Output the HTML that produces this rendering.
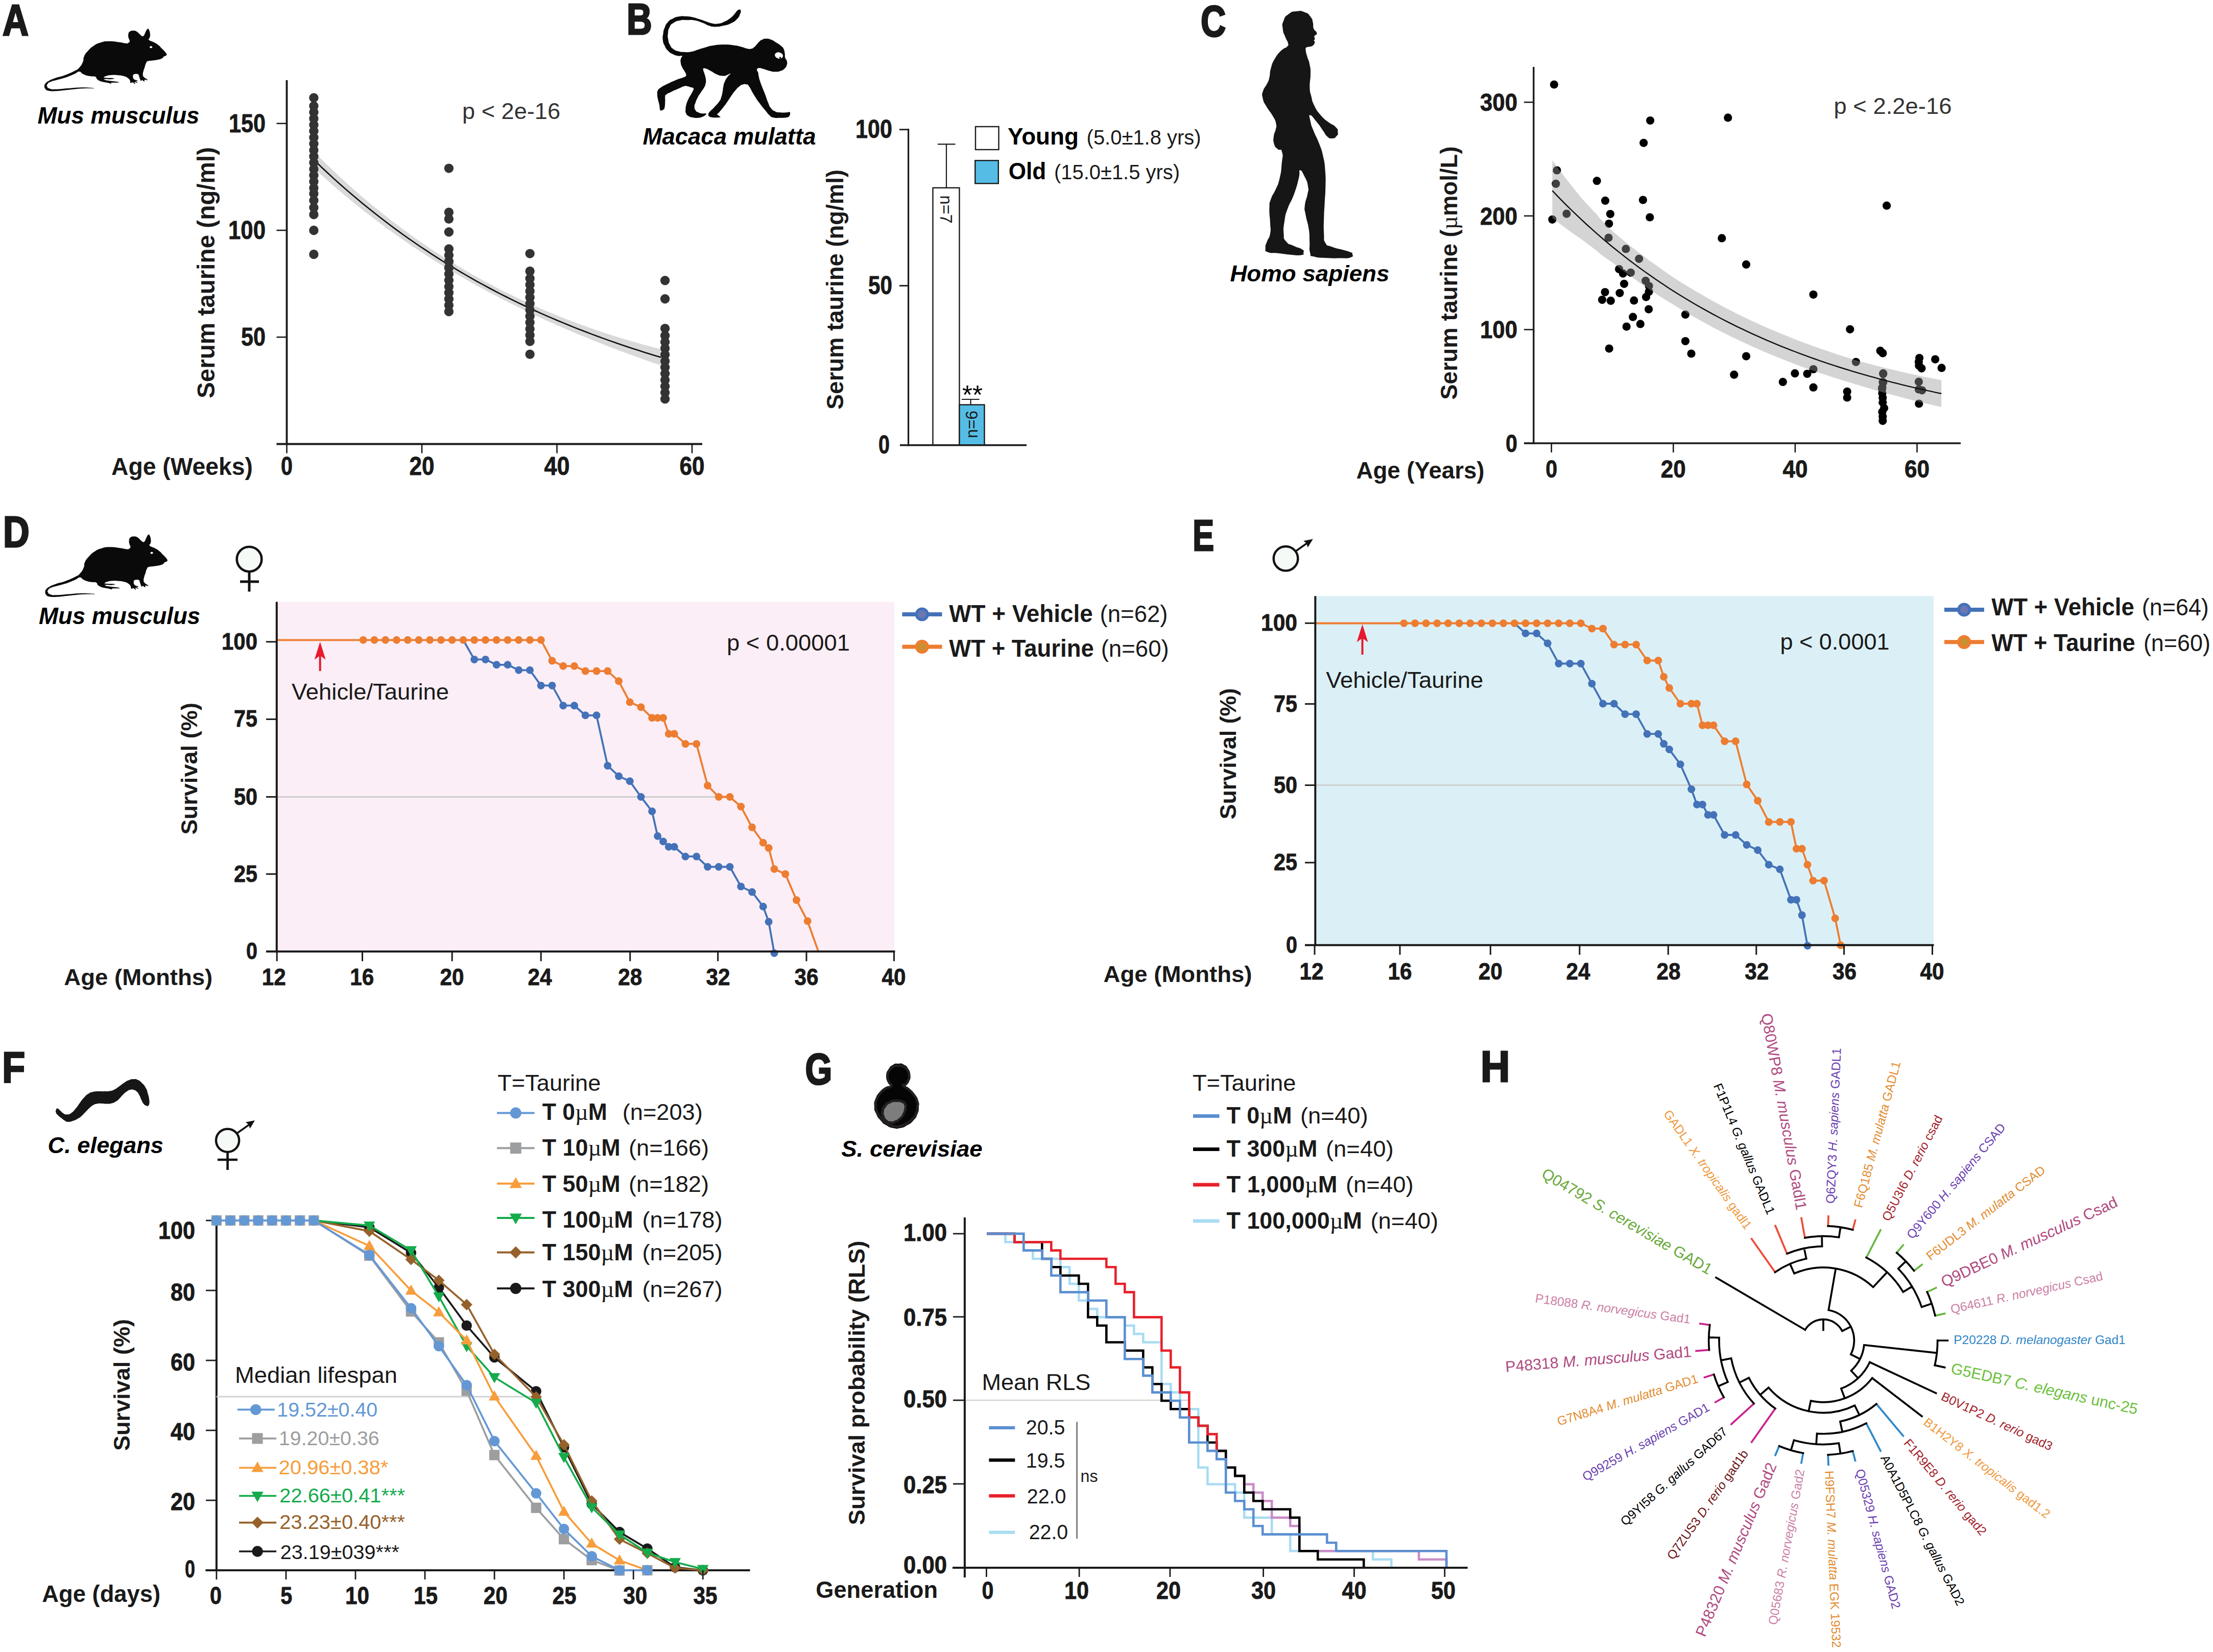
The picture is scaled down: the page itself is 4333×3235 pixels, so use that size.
<!DOCTYPE html>
<html><head><meta charset="utf-8"><title>Figure</title>
<style>html,body{margin:0;padding:0;background:#fff;}body{width:4333px;height:3235px;overflow:hidden;font-family:"Liberation Sans",sans-serif;}svg{display:block;}</style>
</head><body>
<svg width="4333" height="3235" viewBox="0 0 4333 3235" font-family="Liberation Sans, sans-serif">
<g id="pa">
<path d="M619.7,301.9 L630.9,313.2 L642.2,324.2 L653.4,334.9 L664.7,345.5 L675.9,355.9 L687.1,366.0 L698.4,375.9 L709.6,385.7 L720.9,395.2 L732.1,404.5 L743.3,413.7 L754.6,422.6 L765.8,431.4 L777.1,440.0 L788.3,448.4 L799.5,456.6 L810.8,464.7 L822.0,472.6 L833.3,480.3 L844.5,487.9 L855.8,495.3 L867.0,502.5 L878.2,509.6 L889.5,516.6 L900.7,523.3 L912.0,530.0 L923.2,536.5 L934.4,542.8 L945.7,549.1 L956.9,555.1 L968.2,561.1 L979.4,566.9 L990.7,572.6 L1001.9,578.1 L1013.1,583.5 L1024.4,588.8 L1035.6,594.0 L1046.9,599.1 L1058.1,604.0 L1069.3,608.9 L1080.6,613.6 L1091.8,618.2 L1103.1,622.7 L1114.3,627.0 L1125.5,631.3 L1136.8,635.5 L1148.0,639.6 L1159.3,643.5 L1170.5,647.4 L1181.8,651.2 L1193.0,654.8 L1204.2,658.4 L1215.5,661.9 L1226.7,665.3 L1238.0,668.6 L1249.2,671.8 L1260.4,674.9 L1271.7,677.9 L1282.9,680.9 L1294.2,683.8 L1294.2,715.7 L1282.9,711.8 L1271.7,707.9 L1260.4,703.9 L1249.2,699.9 L1238.0,695.8 L1226.7,691.7 L1215.5,687.5 L1204.2,683.3 L1193.0,679.0 L1181.8,674.6 L1170.5,670.2 L1159.3,665.7 L1148.0,661.1 L1136.8,656.5 L1125.5,651.8 L1114.3,647.1 L1103.1,642.2 L1091.8,637.3 L1080.6,632.3 L1069.3,627.3 L1058.1,622.1 L1046.9,616.9 L1035.6,611.6 L1024.4,606.2 L1013.1,600.7 L1001.9,595.1 L990.7,589.5 L979.4,583.7 L968.2,577.8 L956.9,571.9 L945.7,565.8 L934.4,559.7 L923.2,553.4 L912.0,547.0 L900.7,540.5 L889.5,533.9 L878.2,527.2 L867.0,520.4 L855.8,513.4 L844.5,506.4 L833.3,499.2 L822.0,491.8 L810.8,484.4 L799.5,476.8 L788.3,469.0 L777.1,461.1 L765.8,453.1 L754.6,444.9 L743.3,436.6 L732.1,428.1 L720.9,419.5 L709.6,410.7 L698.4,401.7 L687.1,392.6 L675.9,383.3 L664.7,373.8 L653.4,364.2 L642.2,354.3 L630.9,344.3 L619.7,334.1Z" stroke="none" stroke-width="0" fill="#d9d9d9" />
<path d="M619.7,318.0 L630.9,328.7 L642.2,339.3 L653.4,349.6 L664.7,359.7 L675.9,369.6 L687.1,379.3 L698.4,388.8 L709.6,398.2 L720.9,407.3 L732.1,416.3 L743.3,425.1 L754.6,433.8 L765.8,442.3 L777.1,450.6 L788.3,458.7 L799.5,466.7 L810.8,474.5 L822.0,482.2 L833.3,489.7 L844.5,497.1 L855.8,504.4 L867.0,511.5 L878.2,518.4 L889.5,525.2 L900.7,531.9 L912.0,538.5 L923.2,544.9 L934.4,551.3 L945.7,557.4 L956.9,563.5 L968.2,569.5 L979.4,575.3 L990.7,581.0 L1001.9,586.6 L1013.1,592.1 L1024.4,597.5 L1035.6,602.8 L1046.9,608.0 L1058.1,613.1 L1069.3,618.1 L1080.6,622.9 L1091.8,627.7 L1103.1,632.4 L1114.3,637.0 L1125.5,641.6 L1136.8,646.0 L1148.0,650.3 L1159.3,654.6 L1170.5,658.8 L1181.8,662.9 L1193.0,666.9 L1204.2,670.8 L1215.5,674.7 L1226.7,678.5 L1238.0,682.2 L1249.2,685.8 L1260.4,689.4 L1271.7,692.9 L1282.9,696.4 L1294.2,699.7" stroke="#111" stroke-width="2.6" fill="none" />
<circle cx="614.4" cy="191.5" r="9.2" fill="#333" />
<circle cx="614.4" cy="207.4" r="9.2" fill="#333" />
<circle cx="614.4" cy="219.8" r="9.2" fill="#333" />
<circle cx="614.4" cy="232.1" r="9.2" fill="#333" />
<circle cx="614.4" cy="244.5" r="9.2" fill="#333" />
<circle cx="614.4" cy="256.8" r="9.2" fill="#333" />
<circle cx="614.4" cy="269.2" r="9.2" fill="#333" />
<circle cx="614.4" cy="281.5" r="9.2" fill="#333" />
<circle cx="614.4" cy="293.9" r="9.2" fill="#333" />
<circle cx="614.4" cy="306.2" r="9.2" fill="#333" />
<circle cx="614.4" cy="318.5" r="9.2" fill="#333" />
<circle cx="614.4" cy="330.9" r="9.2" fill="#333" />
<circle cx="614.4" cy="343.2" r="9.2" fill="#333" />
<circle cx="614.4" cy="355.6" r="9.2" fill="#333" />
<circle cx="614.4" cy="367.9" r="9.2" fill="#333" />
<circle cx="614.4" cy="379.0" r="9.2" fill="#333" />
<circle cx="614.4" cy="392.4" r="9.2" fill="#333" />
<circle cx="614.4" cy="406.6" r="9.2" fill="#333" />
<circle cx="614.4" cy="420.0" r="9.2" fill="#333" />
<circle cx="614.4" cy="451.0" r="9.2" fill="#333" />
<circle cx="614.4" cy="497.9" r="9.2" fill="#333" />
<circle cx="878.9" cy="329.6" r="9.2" fill="#333" />
<circle cx="878.9" cy="415.8" r="9.2" fill="#333" />
<circle cx="878.9" cy="428.8" r="9.2" fill="#333" />
<circle cx="878.9" cy="454.3" r="9.2" fill="#333" />
<circle cx="878.9" cy="487.4" r="9.2" fill="#333" />
<circle cx="878.9" cy="499.7" r="9.2" fill="#333" />
<circle cx="878.9" cy="511.9" r="9.2" fill="#333" />
<circle cx="878.9" cy="524.2" r="9.2" fill="#333" />
<circle cx="878.9" cy="536.5" r="9.2" fill="#333" />
<circle cx="878.9" cy="548.7" r="9.2" fill="#333" />
<circle cx="878.9" cy="561.0" r="9.2" fill="#333" />
<circle cx="878.9" cy="573.2" r="9.2" fill="#333" />
<circle cx="878.9" cy="585.5" r="9.2" fill="#333" />
<circle cx="878.9" cy="597.8" r="9.2" fill="#333" />
<circle cx="878.9" cy="610.0" r="9.2" fill="#333" />
<circle cx="1037.6" cy="496.6" r="9.2" fill="#333" />
<circle cx="1037.6" cy="530.9" r="9.2" fill="#333" />
<circle cx="1037.6" cy="545.2" r="9.2" fill="#333" />
<circle cx="1037.6" cy="557.5" r="9.2" fill="#333" />
<circle cx="1037.6" cy="569.9" r="9.2" fill="#333" />
<circle cx="1037.6" cy="582.2" r="9.2" fill="#333" />
<circle cx="1037.6" cy="594.5" r="9.2" fill="#333" />
<circle cx="1037.6" cy="606.9" r="9.2" fill="#333" />
<circle cx="1037.6" cy="619.2" r="9.2" fill="#333" />
<circle cx="1037.6" cy="631.6" r="9.2" fill="#333" />
<circle cx="1037.6" cy="643.9" r="9.2" fill="#333" />
<circle cx="1037.6" cy="656.3" r="9.2" fill="#333" />
<circle cx="1037.6" cy="668.6" r="9.2" fill="#333" />
<circle cx="1037.6" cy="693.7" r="9.2" fill="#333" />
<circle cx="1302.1" cy="549.3" r="9.2" fill="#333" />
<circle cx="1302.1" cy="585.3" r="9.2" fill="#333" />
<circle cx="1302.1" cy="643.1" r="9.2" fill="#333" />
<circle cx="1302.1" cy="657.3" r="9.2" fill="#333" />
<circle cx="1302.1" cy="669.7" r="9.2" fill="#333" />
<circle cx="1302.1" cy="682.1" r="9.2" fill="#333" />
<circle cx="1302.1" cy="694.5" r="9.2" fill="#333" />
<circle cx="1302.1" cy="706.9" r="9.2" fill="#333" />
<circle cx="1302.1" cy="719.3" r="9.2" fill="#333" />
<circle cx="1302.1" cy="731.6" r="9.2" fill="#333" />
<circle cx="1302.1" cy="744.0" r="9.2" fill="#333" />
<circle cx="1302.1" cy="756.4" r="9.2" fill="#333" />
<circle cx="1302.1" cy="768.8" r="9.2" fill="#333" />
<circle cx="1302.1" cy="781.2" r="9.2" fill="#333" />
<line x1="561.5" y1="157.0" x2="561.5" y2="871.4" stroke="#1a1a1a" stroke-width="3.8" />
<line x1="541.5" y1="869.5" x2="1375.0" y2="869.5" stroke="#1a1a1a" stroke-width="3.8" />
<line x1="541.5" y1="660.2" x2="561.5" y2="660.2" stroke="#1a1a1a" stroke-width="2.6" />
<text x="520.0" y="677.2" font-size="50.2" text-anchor="end" fill="#1a1a1a" font-weight="bold" textLength="48.0" lengthAdjust="spacingAndGlyphs"  stroke="#1a1a1a" stroke-width="0.9" stroke-linejoin="round">50</text>
<line x1="541.5" y1="451.0" x2="561.5" y2="451.0" stroke="#1a1a1a" stroke-width="2.6" />
<text x="520.0" y="468.0" font-size="50.2" text-anchor="end" fill="#1a1a1a" font-weight="bold" textLength="73.0" lengthAdjust="spacingAndGlyphs"  stroke="#1a1a1a" stroke-width="0.9" stroke-linejoin="round">100</text>
<line x1="541.5" y1="241.8" x2="561.5" y2="241.8" stroke="#1a1a1a" stroke-width="2.6" />
<text x="520.0" y="258.8" font-size="50.2" text-anchor="end" fill="#1a1a1a" font-weight="bold" textLength="72.0" lengthAdjust="spacingAndGlyphs"  stroke="#1a1a1a" stroke-width="0.9" stroke-linejoin="round">150</text>
<line x1="561.5" y1="869.5" x2="561.5" y2="887.5" stroke="#1a1a1a" stroke-width="2.6" />
<text x="561.5" y="930.0" font-size="50.2" text-anchor="middle" fill="#1a1a1a" font-weight="bold" textLength="23.0" lengthAdjust="spacingAndGlyphs"  stroke="#1a1a1a" stroke-width="0.9" stroke-linejoin="round">0</text>
<line x1="826.0" y1="869.5" x2="826.0" y2="887.5" stroke="#1a1a1a" stroke-width="2.6" />
<text x="826.0" y="930.0" font-size="50.2" text-anchor="middle" fill="#1a1a1a" font-weight="bold" textLength="49.0" lengthAdjust="spacingAndGlyphs"  stroke="#1a1a1a" stroke-width="0.9" stroke-linejoin="round">20</text>
<line x1="1090.5" y1="869.5" x2="1090.5" y2="887.5" stroke="#1a1a1a" stroke-width="2.6" />
<text x="1090.5" y="930.0" font-size="50.2" text-anchor="middle" fill="#1a1a1a" font-weight="bold" textLength="50.0" lengthAdjust="spacingAndGlyphs"  stroke="#1a1a1a" stroke-width="0.9" stroke-linejoin="round">40</text>
<line x1="1355.0" y1="869.5" x2="1355.0" y2="887.5" stroke="#1a1a1a" stroke-width="2.6" />
<text x="1355.0" y="930.0" font-size="50.2" text-anchor="middle" fill="#1a1a1a" font-weight="bold" textLength="49.0" lengthAdjust="spacingAndGlyphs"  stroke="#1a1a1a" stroke-width="0.9" stroke-linejoin="round">60</text>
<text x="218.0" y="930.0" font-size="48.1" text-anchor="start" fill="#1a1a1a" font-weight="bold" textLength="277.0" lengthAdjust="spacingAndGlyphs" >Age (Weeks)</text>
<text x="420.0" y="534.0" font-size="48.1" text-anchor="middle" fill="#1a1a1a" font-weight="bold" textLength="492.0" lengthAdjust="spacingAndGlyphs" transform="rotate(-90 420.0 534.0)" >Serum taurine (ng/ml)</text>
<text x="905.0" y="232.5" font-size="43.9" text-anchor="start" fill="#333" textLength="192.0" lengthAdjust="spacingAndGlyphs" >p &lt; 2e-16</text>
<text x="5.1" y="69.0" font-size="86" text-anchor="start" fill="#1a1a1a" font-weight="bold" textLength="51.0" lengthAdjust="spacingAndGlyphs"  stroke="#1a1a1a" stroke-width="3.2" stroke-linejoin="miter">A</text>
<text x="73.5" y="241.5" font-size="46.0" text-anchor="start" fill="#000" font-weight="bold" font-style="italic" textLength="317.0" lengthAdjust="spacingAndGlyphs" >Mus musculus</text>
</g>
<g id="pb">
<rect x="1826.5" y="367.8" width="52.0" height="503.9" fill="#fff" stroke="#1a1a1a" stroke-width="2.4" />
<rect x="1878.5" y="792.6" width="49.0" height="79.1" fill="#55bde5" stroke="#1a1a1a" stroke-width="2.4" />
<line x1="1853.0" y1="282.4" x2="1853.0" y2="367.8" stroke="#1a1a1a" stroke-width="2.2" />
<line x1="1836.0" y1="282.4" x2="1870.5" y2="282.4" stroke="#1a1a1a" stroke-width="2.2" />
<line x1="1900.6" y1="782.0" x2="1900.6" y2="792.6" stroke="#1a1a1a" stroke-width="2.2" />
<line x1="1883.0" y1="782.0" x2="1917.7" y2="782.0" stroke="#1a1a1a" stroke-width="2.2" />
<line x1="1778.6" y1="252.0" x2="1778.6" y2="873.4" stroke="#1a1a1a" stroke-width="3.2" />
<line x1="1762.0" y1="871.7" x2="2010.0" y2="871.7" stroke="#1a1a1a" stroke-width="3.4" />
<line x1="1761.0" y1="253.7" x2="1778.6" y2="253.7" stroke="#1a1a1a" stroke-width="2.8" />
<line x1="1761.0" y1="559.5" x2="1778.6" y2="559.5" stroke="#1a1a1a" stroke-width="2.8" />
<text x="1747.0" y="270.0" font-size="50.2" text-anchor="end" fill="#1a1a1a" font-weight="bold" textLength="72.0" lengthAdjust="spacingAndGlyphs"  stroke="#1a1a1a" stroke-width="0.9" stroke-linejoin="round">100</text>
<text x="1747.0" y="576.0" font-size="50.2" text-anchor="end" fill="#1a1a1a" font-weight="bold" textLength="47.0" lengthAdjust="spacingAndGlyphs"  stroke="#1a1a1a" stroke-width="0.9" stroke-linejoin="round">50</text>
<text x="1742.0" y="888.0" font-size="50.2" text-anchor="end" fill="#1a1a1a" font-weight="bold" textLength="22.0" lengthAdjust="spacingAndGlyphs"  stroke="#1a1a1a" stroke-width="0.9" stroke-linejoin="round">0</text>
<text x="1651.0" y="567.0" font-size="46.0" text-anchor="middle" fill="#1a1a1a" font-weight="bold" textLength="470.0" lengthAdjust="spacingAndGlyphs" transform="rotate(-90 1651.0 567.0)" >Serum taurine (ng/ml)</text>
<text x="1841.0" y="382.6" font-size="34.0" text-anchor="start" fill="#1a1a1a" textLength="55.0" lengthAdjust="spacingAndGlyphs" transform="rotate(90 1841.0 382.6)" >n=7</text>
<text x="1914.0" y="858.0" font-size="34.0" text-anchor="start" fill="#1a1a1a" textLength="54.0" lengthAdjust="spacingAndGlyphs" transform="rotate(-90 1914.0 858.0)" >n=6</text>
<text x="1904.0" y="791.0" font-size="52.2" text-anchor="middle" fill="#000" textLength="40.0" lengthAdjust="spacingAndGlyphs" >**</text>
<rect x="1910.0" y="248.0" width="45.5" height="45.0" fill="#fff" stroke="#1a1a1a" stroke-width="2.4" />
<rect x="1909.3" y="314.3" width="45.5" height="45.0" fill="#55bde5" stroke="#1a1a1a" stroke-width="2.4" />
<text x="1973.0" y="282.8" font-size="47.0" text-anchor="start" fill="#000" font-weight="bold" textLength="139.0" lengthAdjust="spacingAndGlyphs" >Young</text>
<text x="2127.6" y="282.8" font-size="40.8" text-anchor="start" fill="#1a1a1a" textLength="224.0" lengthAdjust="spacingAndGlyphs" >(5.0±1.8 yrs)</text>
<text x="1974.7" y="350.7" font-size="47.0" text-anchor="start" fill="#000" font-weight="bold" textLength="73.5" lengthAdjust="spacingAndGlyphs" >Old</text>
<text x="2064.0" y="350.7" font-size="40.8" text-anchor="start" fill="#1a1a1a" textLength="246.0" lengthAdjust="spacingAndGlyphs" >(15.0±1.5 yrs)</text>
<text x="1226.9" y="67.0" font-size="86" text-anchor="start" fill="#1a1a1a" font-weight="bold" textLength="49.7" lengthAdjust="spacingAndGlyphs"  stroke="#1a1a1a" stroke-width="3.2" stroke-linejoin="miter">B</text>
<text x="1258.5" y="283.3" font-size="46.0" text-anchor="start" fill="#000" font-weight="bold" font-style="italic" textLength="339.0" lengthAdjust="spacingAndGlyphs" >Macaca mulatta</text>
</g>
<g id="pc">
<circle cx="3042.9" cy="165.5" r="8.1" fill="#000" />
<circle cx="3048.4" cy="333.5" r="8.1" fill="#000" />
<circle cx="3046.3" cy="359.8" r="8.1" fill="#000" />
<circle cx="3039.4" cy="429.8" r="8.1" fill="#000" />
<circle cx="3067.4" cy="418.6" r="8.1" fill="#000" />
<circle cx="3126.7" cy="354.2" r="8.1" fill="#000" />
<circle cx="3143.0" cy="392.9" r="8.1" fill="#000" />
<circle cx="3152.9" cy="419.1" r="8.1" fill="#000" />
<circle cx="3150.3" cy="438.0" r="8.1" fill="#000" />
<circle cx="3149.5" cy="465.5" r="8.1" fill="#000" />
<circle cx="3183.4" cy="487.4" r="8.1" fill="#000" />
<circle cx="3209.2" cy="506.8" r="8.1" fill="#000" />
<circle cx="3170.1" cy="527.0" r="8.1" fill="#000" />
<circle cx="3177.8" cy="535.6" r="8.1" fill="#000" />
<circle cx="3192.9" cy="533.8" r="8.1" fill="#000" />
<circle cx="3180.0" cy="555.8" r="8.1" fill="#000" />
<circle cx="3142.6" cy="572.1" r="8.1" fill="#000" />
<circle cx="3171.4" cy="573.8" r="8.1" fill="#000" />
<circle cx="3137.0" cy="587.1" r="8.1" fill="#000" />
<circle cx="3153.8" cy="588.9" r="8.1" fill="#000" />
<circle cx="3199.3" cy="588.4" r="8.1" fill="#000" />
<circle cx="3222.1" cy="549.8" r="8.1" fill="#000" />
<circle cx="3228.6" cy="560.1" r="8.1" fill="#000" />
<circle cx="3228.6" cy="571.2" r="8.1" fill="#000" />
<circle cx="3223.0" cy="581.6" r="8.1" fill="#000" />
<circle cx="3228.1" cy="605.6" r="8.1" fill="#000" />
<circle cx="3197.2" cy="620.7" r="8.1" fill="#000" />
<circle cx="3211.8" cy="634.4" r="8.1" fill="#000" />
<circle cx="3184.7" cy="639.6" r="8.1" fill="#000" />
<circle cx="3150.7" cy="682.6" r="8.1" fill="#000" />
<circle cx="3231.1" cy="236.0" r="8.1" fill="#000" />
<circle cx="3218.2" cy="279.8" r="8.1" fill="#000" />
<circle cx="3216.9" cy="391.6" r="8.1" fill="#000" />
<circle cx="3230.3" cy="425.5" r="8.1" fill="#000" />
<circle cx="3383.3" cy="230.4" r="8.1" fill="#000" />
<circle cx="3371.3" cy="466.4" r="8.1" fill="#000" />
<circle cx="3419.0" cy="517.9" r="8.1" fill="#000" />
<circle cx="3299.9" cy="616.0" r="8.1" fill="#000" />
<circle cx="3299.9" cy="668.0" r="8.1" fill="#000" />
<circle cx="3311.5" cy="692.5" r="8.1" fill="#000" />
<circle cx="3419.0" cy="697.6" r="8.1" fill="#000" />
<circle cx="3395.3" cy="733.7" r="8.1" fill="#000" />
<circle cx="3550.5" cy="576.8" r="8.1" fill="#000" />
<circle cx="3490.8" cy="747.9" r="8.1" fill="#000" />
<circle cx="3514.4" cy="731.2" r="8.1" fill="#000" />
<circle cx="3538.5" cy="732.0" r="8.1" fill="#000" />
<circle cx="3550.5" cy="723.0" r="8.1" fill="#000" />
<circle cx="3550.5" cy="758.7" r="8.1" fill="#000" />
<circle cx="3622.3" cy="644.8" r="8.1" fill="#000" />
<circle cx="3633.9" cy="708.8" r="8.1" fill="#000" />
<circle cx="3616.7" cy="766.8" r="8.1" fill="#000" />
<circle cx="3616.7" cy="778.4" r="8.1" fill="#000" />
<circle cx="3694.1" cy="402.7" r="8.1" fill="#000" />
<circle cx="3681.6" cy="686.9" r="8.1" fill="#000" />
<circle cx="3686.4" cy="691.6" r="8.1" fill="#000" />
<circle cx="3687.2" cy="731.2" r="8.1" fill="#000" />
<circle cx="3686.4" cy="748.3" r="8.1" fill="#000" />
<circle cx="3685.1" cy="761.2" r="8.1" fill="#000" />
<circle cx="3758.1" cy="701.1" r="8.1" fill="#000" />
<circle cx="3756.9" cy="708.4" r="8.1" fill="#000" />
<circle cx="3757.3" cy="716.1" r="8.1" fill="#000" />
<circle cx="3762.4" cy="721.3" r="8.1" fill="#000" />
<circle cx="3789.1" cy="703.6" r="8.1" fill="#000" />
<circle cx="3801.6" cy="720.4" r="8.1" fill="#000" />
<circle cx="3756.9" cy="747.5" r="8.1" fill="#000" />
<circle cx="3756.9" cy="762.5" r="8.1" fill="#000" />
<circle cx="3763.3" cy="764.3" r="8.1" fill="#000" />
<circle cx="3757.3" cy="790.5" r="8.1" fill="#000" />
<circle cx="3686.3" cy="824.1" r="8.1" fill="#000" />
<circle cx="3686.3" cy="815.8" r="8.1" fill="#000" />
<circle cx="3685.4" cy="806.6" r="8.1" fill="#000" />
<circle cx="3689.1" cy="799.3" r="8.1" fill="#000" />
<circle cx="3686.3" cy="788.2" r="8.1" fill="#000" />
<circle cx="3686.3" cy="779.1" r="8.1" fill="#000" />
<circle cx="3685.4" cy="769.9" r="8.1" fill="#000" />
<circle cx="3685.4" cy="758.8" r="8.1" fill="#000" />
<circle cx="3687.2" cy="748.7" r="8.1" fill="#000" />
<circle cx="3687.2" cy="732.2" r="8.1" fill="#000" />
<path d="M3039.4,314.3 L3048.9,327.0 L3058.4,339.6 L3067.9,351.9 L3077.5,364.1 L3087.0,376.1 L3096.5,387.9 L3106.0,398.3 L3115.6,408.5 L3125.1,418.6 L3134.6,430.1 L3144.1,439.8 L3153.6,449.2 L3163.2,457.7 L3172.7,465.7 L3182.2,473.5 L3191.7,481.2 L3201.3,488.7 L3210.8,496.0 L3220.3,503.3 L3229.8,510.4 L3239.4,517.3 L3248.9,524.1 L3258.4,530.8 L3267.9,537.4 L3277.4,543.8 L3287.0,549.9 L3296.5,555.9 L3306.0,561.7 L3315.5,567.5 L3325.1,573.1 L3334.6,578.6 L3344.1,584.1 L3353.6,589.4 L3363.2,594.6 L3372.7,599.7 L3382.2,604.7 L3391.7,609.6 L3401.2,614.4 L3410.8,619.1 L3420.3,623.7 L3429.8,628.2 L3439.3,632.6 L3448.9,636.9 L3458.4,641.1 L3467.9,645.2 L3477.4,649.3 L3487.0,653.3 L3496.5,657.1 L3506.0,661.0 L3515.5,664.7 L3525.0,668.4 L3534.6,671.9 L3544.1,675.5 L3553.6,678.9 L3563.1,682.3 L3572.7,685.6 L3582.2,688.8 L3591.7,692.0 L3601.2,695.2 L3610.8,698.2 L3620.3,701.2 L3629.8,704.1 L3639.3,706.9 L3648.9,709.5 L3658.4,712.1 L3667.9,714.6 L3677.4,717.0 L3686.9,719.4 L3696.5,721.8 L3706.0,724.1 L3715.5,726.3 L3725.0,728.5 L3734.6,730.7 L3744.1,732.8 L3753.6,734.8 L3763.1,736.9 L3772.7,738.8 L3782.2,740.8 L3791.7,742.6 L3801.2,744.5 L3801.2,797.0 L3791.7,794.9 L3782.2,792.7 L3772.7,790.4 L3763.1,788.2 L3753.6,785.8 L3744.1,783.5 L3734.6,781.1 L3725.0,778.6 L3715.5,776.1 L3706.0,773.6 L3696.5,771.0 L3686.9,768.3 L3677.4,765.6 L3667.9,762.9 L3658.4,760.1 L3648.9,757.2 L3639.3,754.3 L3629.8,751.4 L3620.3,748.6 L3610.8,745.7 L3601.2,742.8 L3591.7,739.8 L3582.2,736.7 L3572.7,733.6 L3563.1,730.4 L3553.6,727.1 L3544.1,723.8 L3534.6,720.4 L3525.0,716.9 L3515.5,713.4 L3506.0,709.7 L3496.5,706.1 L3487.0,702.3 L3477.4,698.4 L3467.9,694.5 L3458.4,690.5 L3448.9,686.4 L3439.3,682.2 L3429.8,678.0 L3420.3,673.6 L3410.8,669.2 L3401.2,664.7 L3391.7,660.2 L3382.2,655.5 L3372.7,650.7 L3363.2,645.9 L3353.6,640.9 L3344.1,635.8 L3334.6,630.6 L3325.1,625.3 L3315.5,619.9 L3306.0,614.4 L3296.5,608.8 L3287.0,603.0 L3277.4,597.2 L3267.9,591.3 L3258.4,585.4 L3248.9,579.4 L3239.4,573.2 L3229.8,566.9 L3220.3,560.5 L3210.8,553.9 L3201.3,547.1 L3191.7,540.3 L3182.2,533.3 L3172.7,526.1 L3163.2,518.8 L3153.6,511.7 L3144.1,505.2 L3134.6,498.6 L3125.1,490.0 L3115.6,483.0 L3106.0,475.8 L3096.5,468.5 L3087.0,462.0 L3077.5,455.4 L3067.9,448.5 L3058.4,441.5 L3048.9,434.3 L3039.4,426.8Z" stroke="none" stroke-width="0" fill="#999" fill-opacity="0.42"/>
<path d="M3039.4,373.4 L3048.9,383.3 L3058.4,393.1 L3067.9,402.6 L3077.5,412.0 L3087.0,421.2 L3096.5,430.2 L3106.0,439.0 L3115.6,447.6 L3125.1,456.1 L3134.6,464.4 L3144.1,472.5 L3153.6,480.5 L3163.2,488.3 L3172.7,495.9 L3182.2,503.4 L3191.7,510.7 L3201.3,517.9 L3210.8,525.0 L3220.3,531.9 L3229.8,538.6 L3239.4,545.3 L3248.9,551.8 L3258.4,558.1 L3267.9,564.4 L3277.4,570.5 L3287.0,576.5 L3296.5,582.3 L3306.0,588.1 L3315.5,593.7 L3325.1,599.2 L3334.6,604.6 L3344.1,609.9 L3353.6,615.1 L3363.2,620.2 L3372.7,625.2 L3382.2,630.1 L3391.7,634.9 L3401.2,639.6 L3410.8,644.2 L3420.3,648.7 L3429.8,653.1 L3439.3,657.4 L3448.9,661.7 L3458.4,665.8 L3467.9,669.9 L3477.4,673.9 L3487.0,677.8 L3496.5,681.6 L3506.0,685.3 L3515.5,689.0 L3525.0,692.6 L3534.6,696.2 L3544.1,699.6 L3553.6,703.0 L3563.1,706.3 L3572.7,709.6 L3582.2,712.8 L3591.7,715.9 L3601.2,719.0 L3610.8,722.0 L3620.3,724.9 L3629.8,727.8 L3639.3,730.6 L3648.9,733.4 L3658.4,736.1 L3667.9,738.7 L3677.4,741.3 L3686.9,743.9 L3696.5,746.4 L3706.0,748.8 L3715.5,751.2 L3725.0,753.6 L3734.6,755.9 L3744.1,758.1 L3753.6,760.3 L3763.1,762.5 L3772.7,764.6 L3782.2,766.7 L3791.7,768.8 L3801.2,770.7" stroke="#111" stroke-width="2.4" fill="none" />
<line x1="3002.8" y1="131.0" x2="3002.8" y2="869.7" stroke="#1a1a1a" stroke-width="3.4" />
<line x1="2984.0" y1="868.0" x2="3839.0" y2="868.0" stroke="#1a1a1a" stroke-width="3.4" />
<line x1="2984.0" y1="868.0" x2="3002.8" y2="868.0" stroke="#1a1a1a" stroke-width="2.6" />
<text x="2971.0" y="885.0" font-size="48.1" text-anchor="end" fill="#1a1a1a" font-weight="bold" textLength="23.0" lengthAdjust="spacingAndGlyphs"  stroke="#1a1a1a" stroke-width="0.9" stroke-linejoin="round">0</text>
<line x1="2984.0" y1="645.4" x2="3002.8" y2="645.4" stroke="#1a1a1a" stroke-width="2.6" />
<text x="2971.0" y="662.4" font-size="48.1" text-anchor="end" fill="#1a1a1a" font-weight="bold" textLength="73.0" lengthAdjust="spacingAndGlyphs"  stroke="#1a1a1a" stroke-width="0.9" stroke-linejoin="round">100</text>
<line x1="2984.0" y1="422.8" x2="3002.8" y2="422.8" stroke="#1a1a1a" stroke-width="2.6" />
<text x="2971.0" y="439.8" font-size="48.1" text-anchor="end" fill="#1a1a1a" font-weight="bold" textLength="73.0" lengthAdjust="spacingAndGlyphs"  stroke="#1a1a1a" stroke-width="0.9" stroke-linejoin="round">200</text>
<line x1="2984.0" y1="200.2" x2="3002.8" y2="200.2" stroke="#1a1a1a" stroke-width="2.6" />
<text x="2971.0" y="217.2" font-size="48.1" text-anchor="end" fill="#1a1a1a" font-weight="bold" textLength="73.0" lengthAdjust="spacingAndGlyphs"  stroke="#1a1a1a" stroke-width="0.9" stroke-linejoin="round">300</text>
<line x1="3037.7" y1="868.0" x2="3037.7" y2="886.0" stroke="#1a1a1a" stroke-width="2.6" />
<text x="3037.7" y="934.5" font-size="48.1" text-anchor="middle" fill="#1a1a1a" font-weight="bold" textLength="23.0" lengthAdjust="spacingAndGlyphs"  stroke="#1a1a1a" stroke-width="0.9" stroke-linejoin="round">0</text>
<line x1="3276.3" y1="868.0" x2="3276.3" y2="886.0" stroke="#1a1a1a" stroke-width="2.6" />
<text x="3276.3" y="934.5" font-size="48.1" text-anchor="middle" fill="#1a1a1a" font-weight="bold" textLength="49.0" lengthAdjust="spacingAndGlyphs"  stroke="#1a1a1a" stroke-width="0.9" stroke-linejoin="round">20</text>
<line x1="3514.9" y1="868.0" x2="3514.9" y2="886.0" stroke="#1a1a1a" stroke-width="2.6" />
<text x="3514.9" y="934.5" font-size="48.1" text-anchor="middle" fill="#1a1a1a" font-weight="bold" textLength="49.0" lengthAdjust="spacingAndGlyphs"  stroke="#1a1a1a" stroke-width="0.9" stroke-linejoin="round">40</text>
<line x1="3753.5" y1="868.0" x2="3753.5" y2="886.0" stroke="#1a1a1a" stroke-width="2.6" />
<text x="3753.5" y="934.5" font-size="48.1" text-anchor="middle" fill="#1a1a1a" font-weight="bold" textLength="49.0" lengthAdjust="spacingAndGlyphs"  stroke="#1a1a1a" stroke-width="0.9" stroke-linejoin="round">60</text>
<text x="2655.5" y="937.0" font-size="46.0" text-anchor="start" fill="#1a1a1a" font-weight="bold" textLength="251.0" lengthAdjust="spacingAndGlyphs" >Age (Years)</text>
<text x="2853.0" y="534.7" font-size="46.0" text-anchor="middle" fill="#1a1a1a" font-weight="bold" textLength="496.0" lengthAdjust="spacingAndGlyphs" transform="rotate(-90 2853.0 534.7)" >Serum taurine (<tspan font-family="Liberation Serif, serif" font-weight="normal">µ</tspan>mol/L)</text>
<text x="3590.5" y="222.6" font-size="43.9" text-anchor="start" fill="#333" textLength="231.0" lengthAdjust="spacingAndGlyphs" >p &lt; 2.2e-16</text>
<text x="2351.1" y="71.0" font-size="86" text-anchor="start" fill="#1a1a1a" font-weight="bold" textLength="49.2" lengthAdjust="spacingAndGlyphs"  stroke="#1a1a1a" stroke-width="3.2" stroke-linejoin="miter">C</text>
<text x="2408.4" y="551.2" font-size="43.9" text-anchor="start" fill="#000" font-weight="bold" font-style="italic" textLength="312.0" lengthAdjust="spacingAndGlyphs" >Homo sapiens</text>
</g>
<g id="pd">
<rect x="541.8" y="1178.6" width="1209.2" height="684.6" fill="#fbeef6" stroke="none" stroke-width="0" />
<line x1="541.8" y1="1560.5" x2="1407.2" y2="1560.5" stroke="#cfcfcf" stroke-width="3" />
<path d="M907.0,1253.3 L928.7,1291.4 L950.5,1291.4 L972.2,1301.8 L994.0,1301.8 L1015.7,1312.3 L1037.5,1312.3 L1059.2,1342.4 L1081.0,1342.4 L1102.7,1381.7 L1124.5,1381.7 L1146.2,1400.8 L1168.0,1400.8 L1189.7,1499.4 L1211.5,1519.9 L1233.2,1529.8 L1255.0,1560.5 L1276.7,1588.8 L1287.6,1637.3 L1298.5,1647.7 L1309.3,1658.2 L1320.2,1658.2 L1342.0,1677.2 L1363.7,1677.2 L1385.5,1697.5 L1407.2,1697.5 L1429.0,1697.5 L1450.7,1735.9 L1472.5,1746.7 L1494.2,1775.2 L1505.1,1805.0 L1516.0,1866.5" stroke="#4472b8" stroke-width="3.8" fill="none" stroke-linejoin="round"/>
<circle cx="928.7" cy="1291.4" r="7.5" fill="#4472b8" />
<circle cx="950.5" cy="1291.4" r="7.5" fill="#4472b8" />
<circle cx="972.2" cy="1301.8" r="7.5" fill="#4472b8" />
<circle cx="994.0" cy="1301.8" r="7.5" fill="#4472b8" />
<circle cx="1015.7" cy="1312.3" r="7.5" fill="#4472b8" />
<circle cx="1037.5" cy="1312.3" r="7.5" fill="#4472b8" />
<circle cx="1059.2" cy="1342.4" r="7.5" fill="#4472b8" />
<circle cx="1081.0" cy="1342.4" r="7.5" fill="#4472b8" />
<circle cx="1102.7" cy="1381.7" r="7.5" fill="#4472b8" />
<circle cx="1124.5" cy="1381.7" r="7.5" fill="#4472b8" />
<circle cx="1146.2" cy="1400.8" r="7.5" fill="#4472b8" />
<circle cx="1168.0" cy="1400.8" r="7.5" fill="#4472b8" />
<circle cx="1189.7" cy="1499.4" r="7.5" fill="#4472b8" />
<circle cx="1211.5" cy="1519.9" r="7.5" fill="#4472b8" />
<circle cx="1233.2" cy="1529.8" r="7.5" fill="#4472b8" />
<circle cx="1255.0" cy="1560.5" r="7.5" fill="#4472b8" />
<circle cx="1276.7" cy="1588.8" r="7.5" fill="#4472b8" />
<circle cx="1287.6" cy="1637.3" r="7.5" fill="#4472b8" />
<circle cx="1298.5" cy="1647.7" r="7.5" fill="#4472b8" />
<circle cx="1309.3" cy="1658.2" r="7.5" fill="#4472b8" />
<circle cx="1320.2" cy="1658.2" r="7.5" fill="#4472b8" />
<circle cx="1342.0" cy="1677.2" r="7.5" fill="#4472b8" />
<circle cx="1363.7" cy="1677.2" r="7.5" fill="#4472b8" />
<circle cx="1385.5" cy="1697.5" r="7.5" fill="#4472b8" />
<circle cx="1407.2" cy="1697.5" r="7.5" fill="#4472b8" />
<circle cx="1429.0" cy="1697.5" r="7.5" fill="#4472b8" />
<circle cx="1450.7" cy="1735.9" r="7.5" fill="#4472b8" />
<circle cx="1472.5" cy="1746.7" r="7.5" fill="#4472b8" />
<circle cx="1494.2" cy="1775.2" r="7.5" fill="#4472b8" />
<circle cx="1505.1" cy="1805.0" r="7.5" fill="#4472b8" />
<circle cx="1516.0" cy="1866.5" r="7.5" fill="#4472b8" />
<path d="M543.7,1253.3 L711.2,1253.3 L733.0,1253.3 L754.7,1253.3 L776.5,1253.3 L798.2,1253.3 L820.0,1253.3 L841.7,1253.3 L863.5,1253.3 L885.2,1253.3 L907.0,1253.3 L928.7,1253.3 L950.5,1253.3 L972.2,1253.3 L994.0,1253.3 L1015.7,1253.3 L1037.5,1253.3 L1059.2,1253.3 L1081.0,1293.9 L1102.7,1304.3 L1124.5,1304.3 L1146.2,1314.1 L1168.0,1314.1 L1189.7,1314.1 L1211.5,1333.8 L1233.2,1375.0 L1255.0,1384.8 L1276.7,1405.7 L1287.6,1405.7 L1298.5,1405.7 L1309.3,1437.0 L1320.2,1437.0 L1342.0,1456.7 L1363.7,1456.7 L1385.5,1538.4 L1407.2,1560.5 L1429.0,1560.5 L1450.7,1579.5 L1472.5,1620.1 L1494.2,1650.2 L1505.1,1660.6 L1516.0,1701.8 L1537.7,1711.6 L1559.5,1762.6 L1581.2,1803.8 L1603.0,1865.2" stroke="#ed7d31" stroke-width="3.8" fill="none" stroke-linejoin="round"/>
<circle cx="711.2" cy="1253.3" r="7.5" fill="#ed7d31" />
<circle cx="733.0" cy="1253.3" r="7.5" fill="#ed7d31" />
<circle cx="754.7" cy="1253.3" r="7.5" fill="#ed7d31" />
<circle cx="776.5" cy="1253.3" r="7.5" fill="#ed7d31" />
<circle cx="798.2" cy="1253.3" r="7.5" fill="#ed7d31" />
<circle cx="820.0" cy="1253.3" r="7.5" fill="#ed7d31" />
<circle cx="841.7" cy="1253.3" r="7.5" fill="#ed7d31" />
<circle cx="863.5" cy="1253.3" r="7.5" fill="#ed7d31" />
<circle cx="885.2" cy="1253.3" r="7.5" fill="#ed7d31" />
<circle cx="907.0" cy="1253.3" r="7.5" fill="#ed7d31" />
<circle cx="928.7" cy="1253.3" r="7.5" fill="#ed7d31" />
<circle cx="950.5" cy="1253.3" r="7.5" fill="#ed7d31" />
<circle cx="972.2" cy="1253.3" r="7.5" fill="#ed7d31" />
<circle cx="994.0" cy="1253.3" r="7.5" fill="#ed7d31" />
<circle cx="1015.7" cy="1253.3" r="7.5" fill="#ed7d31" />
<circle cx="1037.5" cy="1253.3" r="7.5" fill="#ed7d31" />
<circle cx="1059.2" cy="1253.3" r="7.5" fill="#ed7d31" />
<circle cx="1081.0" cy="1293.9" r="7.5" fill="#ed7d31" />
<circle cx="1102.7" cy="1304.3" r="7.5" fill="#ed7d31" />
<circle cx="1124.5" cy="1304.3" r="7.5" fill="#ed7d31" />
<circle cx="1146.2" cy="1314.1" r="7.5" fill="#ed7d31" />
<circle cx="1168.0" cy="1314.1" r="7.5" fill="#ed7d31" />
<circle cx="1189.7" cy="1314.1" r="7.5" fill="#ed7d31" />
<circle cx="1211.5" cy="1333.8" r="7.5" fill="#ed7d31" />
<circle cx="1233.2" cy="1375.0" r="7.5" fill="#ed7d31" />
<circle cx="1255.0" cy="1384.8" r="7.5" fill="#ed7d31" />
<circle cx="1276.7" cy="1405.7" r="7.5" fill="#ed7d31" />
<circle cx="1287.6" cy="1405.7" r="7.5" fill="#ed7d31" />
<circle cx="1298.5" cy="1405.7" r="7.5" fill="#ed7d31" />
<circle cx="1309.3" cy="1437.0" r="7.5" fill="#ed7d31" />
<circle cx="1320.2" cy="1437.0" r="7.5" fill="#ed7d31" />
<circle cx="1342.0" cy="1456.7" r="7.5" fill="#ed7d31" />
<circle cx="1363.7" cy="1456.7" r="7.5" fill="#ed7d31" />
<circle cx="1385.5" cy="1538.4" r="7.5" fill="#ed7d31" />
<circle cx="1407.2" cy="1560.5" r="7.5" fill="#ed7d31" />
<circle cx="1429.0" cy="1560.5" r="7.5" fill="#ed7d31" />
<circle cx="1450.7" cy="1579.5" r="7.5" fill="#ed7d31" />
<circle cx="1472.5" cy="1620.1" r="7.5" fill="#ed7d31" />
<circle cx="1494.2" cy="1650.2" r="7.5" fill="#ed7d31" />
<circle cx="1505.1" cy="1660.6" r="7.5" fill="#ed7d31" />
<circle cx="1516.0" cy="1701.8" r="7.5" fill="#ed7d31" />
<circle cx="1537.7" cy="1711.6" r="7.5" fill="#ed7d31" />
<circle cx="1559.5" cy="1762.6" r="7.5" fill="#ed7d31" />
<circle cx="1581.2" cy="1803.8" r="7.5" fill="#ed7d31" />
<line x1="626.7" y1="1276.8" x2="626.7" y2="1314.0" stroke="#e8192c" stroke-width="4" />
<path d="M626.7,1256.8 L637.7,1291.8 L626.7,1283.8 L615.7,1291.8 Z" fill="#e8192c"/>
<text x="571.0" y="1369.6" font-size="44.9" text-anchor="start" fill="#1a1a1a" textLength="308.0" lengthAdjust="spacingAndGlyphs" >Vehicle/Taurine</text>
<line x1="541.8" y1="1178.6" x2="541.8" y2="1865.2" stroke="#1a1a1a" stroke-width="4" />
<line x1="521.0" y1="1863.2" x2="1752.5" y2="1863.2" stroke="#1a1a1a" stroke-width="4" />
<line x1="521.0" y1="1256.8" x2="541.8" y2="1256.8" stroke="#1a1a1a" stroke-width="3" />
<line x1="521.0" y1="1408.4" x2="541.8" y2="1408.4" stroke="#1a1a1a" stroke-width="3" />
<line x1="521.0" y1="1560.5" x2="541.8" y2="1560.5" stroke="#1a1a1a" stroke-width="3" />
<line x1="521.0" y1="1711.6" x2="541.8" y2="1711.6" stroke="#1a1a1a" stroke-width="3" />
<text x="504.0" y="1271.8" font-size="47.0" text-anchor="end" fill="#1a1a1a" font-weight="bold" textLength="70.0" lengthAdjust="spacingAndGlyphs"  stroke="#1a1a1a" stroke-width="0.9" stroke-linejoin="round">100</text>
<text x="504.0" y="1423.4" font-size="47.0" text-anchor="end" fill="#1a1a1a" font-weight="bold" textLength="46.0" lengthAdjust="spacingAndGlyphs"  stroke="#1a1a1a" stroke-width="0.9" stroke-linejoin="round">75</text>
<text x="504.0" y="1575.5" font-size="47.0" text-anchor="end" fill="#1a1a1a" font-weight="bold" textLength="46.0" lengthAdjust="spacingAndGlyphs"  stroke="#1a1a1a" stroke-width="0.9" stroke-linejoin="round">50</text>
<text x="504.0" y="1726.6" font-size="47.0" text-anchor="end" fill="#1a1a1a" font-weight="bold" textLength="46.0" lengthAdjust="spacingAndGlyphs"  stroke="#1a1a1a" stroke-width="0.9" stroke-linejoin="round">25</text>
<text x="504.0" y="1878.2" font-size="47.0" text-anchor="end" fill="#1a1a1a" font-weight="bold" textLength="22.0" lengthAdjust="spacingAndGlyphs"  stroke="#1a1a1a" stroke-width="0.9" stroke-linejoin="round">0</text>
<line x1="542.2" y1="1863.2" x2="542.2" y2="1882.2" stroke="#1a1a1a" stroke-width="3" />
<text x="536.3" y="1929.3" font-size="47.0" text-anchor="middle" fill="#1a1a1a" font-weight="bold" textLength="47.0" lengthAdjust="spacingAndGlyphs"  stroke="#1a1a1a" stroke-width="0.9" stroke-linejoin="round">12</text>
<line x1="709.5" y1="1863.2" x2="709.5" y2="1882.2" stroke="#1a1a1a" stroke-width="3" />
<text x="708.8" y="1929.3" font-size="47.0" text-anchor="middle" fill="#1a1a1a" font-weight="bold" textLength="47.0" lengthAdjust="spacingAndGlyphs"  stroke="#1a1a1a" stroke-width="0.9" stroke-linejoin="round">16</text>
<line x1="885.2" y1="1863.2" x2="885.2" y2="1882.2" stroke="#1a1a1a" stroke-width="3" />
<text x="885.0" y="1929.3" font-size="47.0" text-anchor="middle" fill="#1a1a1a" font-weight="bold" textLength="47.0" lengthAdjust="spacingAndGlyphs"  stroke="#1a1a1a" stroke-width="0.9" stroke-linejoin="round">20</text>
<line x1="1059.2" y1="1863.2" x2="1059.2" y2="1882.2" stroke="#1a1a1a" stroke-width="3" />
<text x="1057.0" y="1929.3" font-size="47.0" text-anchor="middle" fill="#1a1a1a" font-weight="bold" textLength="47.0" lengthAdjust="spacingAndGlyphs"  stroke="#1a1a1a" stroke-width="0.9" stroke-linejoin="round">24</text>
<line x1="1233.7" y1="1863.2" x2="1233.7" y2="1882.2" stroke="#1a1a1a" stroke-width="3" />
<text x="1233.7" y="1929.3" font-size="47.0" text-anchor="middle" fill="#1a1a1a" font-weight="bold" textLength="47.0" lengthAdjust="spacingAndGlyphs"  stroke="#1a1a1a" stroke-width="0.9" stroke-linejoin="round">28</text>
<line x1="1405.6" y1="1863.2" x2="1405.6" y2="1882.2" stroke="#1a1a1a" stroke-width="3" />
<text x="1406.0" y="1929.3" font-size="47.0" text-anchor="middle" fill="#1a1a1a" font-weight="bold" textLength="47.0" lengthAdjust="spacingAndGlyphs"  stroke="#1a1a1a" stroke-width="0.9" stroke-linejoin="round">32</text>
<line x1="1579.0" y1="1863.2" x2="1579.0" y2="1882.2" stroke="#1a1a1a" stroke-width="3" />
<text x="1579.0" y="1929.3" font-size="47.0" text-anchor="middle" fill="#1a1a1a" font-weight="bold" textLength="47.0" lengthAdjust="spacingAndGlyphs"  stroke="#1a1a1a" stroke-width="0.9" stroke-linejoin="round">36</text>
<line x1="1750.5" y1="1863.2" x2="1750.5" y2="1882.2" stroke="#1a1a1a" stroke-width="3" />
<text x="1750.0" y="1929.3" font-size="47.0" text-anchor="middle" fill="#1a1a1a" font-weight="bold" textLength="47.0" lengthAdjust="spacingAndGlyphs"  stroke="#1a1a1a" stroke-width="0.9" stroke-linejoin="round">40</text>
<text x="125.3" y="1929.0" font-size="44.9" text-anchor="start" fill="#1a1a1a" font-weight="bold" textLength="291.0" lengthAdjust="spacingAndGlyphs" >Age (Months)</text>
<text x="385.7" y="1505.3" font-size="44.9" text-anchor="middle" fill="#1a1a1a" font-weight="bold" textLength="258.5" lengthAdjust="spacingAndGlyphs" transform="rotate(-90 385.7 1505.3)" >Survival (%)</text>
<text x="1423.0" y="1274.0" font-size="44.9" text-anchor="start" fill="#1a1a1a" textLength="241.0" lengthAdjust="spacingAndGlyphs" >p &lt; 0.00001</text>
<line x1="1766.5" y1="1203.0" x2="1844.5" y2="1203.0" stroke="#4472b8" stroke-width="8" />
<circle cx="1805.3" cy="1203.0" r="13.6" fill="#4472b8" />
<circle cx="1805.3" cy="1203.0" r="7.9" fill="#6b78b4" />
<line x1="1766.5" y1="1266.4" x2="1844.5" y2="1266.4" stroke="#ed7d31" stroke-width="8" />
<circle cx="1805.3" cy="1266.4" r="13.6" fill="#ed7d31" />
<circle cx="1805.3" cy="1266.4" r="7.9" fill="#c8902e" />
<text x="1858.3" y="1218.0" font-size="47.5" text-anchor="start" fill="#1a1a1a" font-weight="bold" textLength="281.5" lengthAdjust="spacingAndGlyphs" >WT + Vehicle</text>
<text x="2153.5" y="1218.0" font-size="47.0" text-anchor="start" fill="#1a1a1a" textLength="133.0" lengthAdjust="spacingAndGlyphs" >(n=62)</text>
<text x="1858.3" y="1286.2" font-size="47.5" text-anchor="start" fill="#1a1a1a" font-weight="bold" textLength="283.5" lengthAdjust="spacingAndGlyphs" >WT + Taurine</text>
<text x="2155.7" y="1286.2" font-size="47.0" text-anchor="start" fill="#1a1a1a" textLength="133.0" lengthAdjust="spacingAndGlyphs" >(n=60)</text>
<text x="5.9" y="1071.4" font-size="86" text-anchor="start" fill="#1a1a1a" font-weight="bold" textLength="51.7" lengthAdjust="spacingAndGlyphs"  stroke="#1a1a1a" stroke-width="3.2" stroke-linejoin="miter">D</text>
<text x="76.0" y="1222.3" font-size="46.0" text-anchor="start" fill="#000" font-weight="bold" font-style="italic" textLength="316.0" lengthAdjust="spacingAndGlyphs" >Mus musculus</text>
<circle cx="488" cy="1095" r="24.3" fill="#f6faf6" stroke="#111" stroke-width="4.6"/>
<line x1="488.0" y1="1119.5" x2="488.0" y2="1158.5" stroke="#111" stroke-width="5" />
<line x1="470.0" y1="1139.0" x2="507.0" y2="1139.0" stroke="#111" stroke-width="5" />
</g>
<g id="pe">
<rect x="2575.3" y="1167.3" width="1211.0" height="683.4" fill="#dbf0f6" stroke="none" stroke-width="0" />
<line x1="2575.3" y1="1537.6" x2="3420.0" y2="1537.6" stroke="#cfcfcf" stroke-width="3" />
<path d="M2965.3,1220.5 L2987.0,1240.3 L3008.6,1240.3 L3030.2,1259.7 L3051.9,1299.5 L3073.6,1299.5 L3095.2,1299.5 L3116.9,1338.8 L3138.5,1378.0 L3160.2,1378.0 L3181.8,1398.4 L3203.5,1398.4 L3225.1,1437.2 L3246.8,1437.2 L3257.6,1456.6 L3268.4,1467.5 L3290.1,1496.8 L3311.7,1545.5 L3322.5,1575.4 L3333.4,1575.4 L3344.2,1595.8 L3355.0,1595.8 L3376.7,1635.0 L3398.3,1635.0 L3420.0,1654.4 L3441.6,1664.8 L3463.2,1693.2 L3484.9,1702.3 L3506.6,1761.9 L3517.4,1761.9 L3528.2,1792.1 L3539.0,1852.0" stroke="#4472b8" stroke-width="3.8" fill="none" stroke-linejoin="round"/>
<circle cx="2987.0" cy="1240.3" r="7.5" fill="#4472b8" />
<circle cx="3008.6" cy="1240.3" r="7.5" fill="#4472b8" />
<circle cx="3030.2" cy="1259.7" r="7.5" fill="#4472b8" />
<circle cx="3051.9" cy="1299.5" r="7.5" fill="#4472b8" />
<circle cx="3073.6" cy="1299.5" r="7.5" fill="#4472b8" />
<circle cx="3095.2" cy="1299.5" r="7.5" fill="#4472b8" />
<circle cx="3116.9" cy="1338.8" r="7.5" fill="#4472b8" />
<circle cx="3138.5" cy="1378.0" r="7.5" fill="#4472b8" />
<circle cx="3160.2" cy="1378.0" r="7.5" fill="#4472b8" />
<circle cx="3181.8" cy="1398.4" r="7.5" fill="#4472b8" />
<circle cx="3203.5" cy="1398.4" r="7.5" fill="#4472b8" />
<circle cx="3225.1" cy="1437.2" r="7.5" fill="#4472b8" />
<circle cx="3246.8" cy="1437.2" r="7.5" fill="#4472b8" />
<circle cx="3257.6" cy="1456.6" r="7.5" fill="#4472b8" />
<circle cx="3268.4" cy="1467.5" r="7.5" fill="#4472b8" />
<circle cx="3290.1" cy="1496.8" r="7.5" fill="#4472b8" />
<circle cx="3311.7" cy="1545.5" r="7.5" fill="#4472b8" />
<circle cx="3322.5" cy="1575.4" r="7.5" fill="#4472b8" />
<circle cx="3333.4" cy="1575.4" r="7.5" fill="#4472b8" />
<circle cx="3344.2" cy="1595.8" r="7.5" fill="#4472b8" />
<circle cx="3355.0" cy="1595.8" r="7.5" fill="#4472b8" />
<circle cx="3376.7" cy="1635.0" r="7.5" fill="#4472b8" />
<circle cx="3398.3" cy="1635.0" r="7.5" fill="#4472b8" />
<circle cx="3420.0" cy="1654.4" r="7.5" fill="#4472b8" />
<circle cx="3441.6" cy="1664.8" r="7.5" fill="#4472b8" />
<circle cx="3463.2" cy="1693.2" r="7.5" fill="#4472b8" />
<circle cx="3484.9" cy="1702.3" r="7.5" fill="#4472b8" />
<circle cx="3506.6" cy="1761.9" r="7.5" fill="#4472b8" />
<circle cx="3517.4" cy="1761.9" r="7.5" fill="#4472b8" />
<circle cx="3528.2" cy="1792.1" r="7.5" fill="#4472b8" />
<circle cx="3539.0" cy="1852.0" r="7.5" fill="#4472b8" />
<path d="M2576.3,1220.5 L2748.8,1220.5 L2770.5,1220.5 L2792.1,1220.5 L2813.8,1220.5 L2835.4,1220.5 L2857.1,1220.5 L2878.7,1220.5 L2900.4,1220.5 L2922.0,1220.5 L2943.7,1220.5 L2965.3,1220.5 L2987.0,1220.5 L3008.6,1220.5 L3030.2,1220.5 L3051.9,1220.5 L3073.6,1220.5 L3095.2,1220.5 L3116.9,1230.9 L3138.5,1230.9 L3160.2,1262.2 L3181.8,1262.2 L3203.5,1262.2 L3225.1,1293.5 L3246.8,1293.5 L3257.6,1325.3 L3268.4,1347.2 L3290.1,1378.0 L3311.7,1378.0 L3322.5,1378.0 L3333.4,1420.3 L3344.2,1420.3 L3355.0,1420.3 L3376.7,1451.6 L3398.3,1451.6 L3420.0,1536.1 L3441.6,1567.9 L3463.2,1609.7 L3484.9,1609.5 L3506.6,1609.5 L3517.4,1662.0 L3528.2,1662.0 L3539.0,1693.2 L3549.9,1724.5 L3571.5,1724.5 L3593.2,1798.2 L3604.0,1851.0" stroke="#ed7d31" stroke-width="3.8" fill="none" stroke-linejoin="round"/>
<circle cx="2748.8" cy="1220.5" r="7.5" fill="#ed7d31" />
<circle cx="2770.5" cy="1220.5" r="7.5" fill="#ed7d31" />
<circle cx="2792.1" cy="1220.5" r="7.5" fill="#ed7d31" />
<circle cx="2813.8" cy="1220.5" r="7.5" fill="#ed7d31" />
<circle cx="2835.4" cy="1220.5" r="7.5" fill="#ed7d31" />
<circle cx="2857.1" cy="1220.5" r="7.5" fill="#ed7d31" />
<circle cx="2878.7" cy="1220.5" r="7.5" fill="#ed7d31" />
<circle cx="2900.4" cy="1220.5" r="7.5" fill="#ed7d31" />
<circle cx="2922.0" cy="1220.5" r="7.5" fill="#ed7d31" />
<circle cx="2943.7" cy="1220.5" r="7.5" fill="#ed7d31" />
<circle cx="2965.3" cy="1220.5" r="7.5" fill="#ed7d31" />
<circle cx="2987.0" cy="1220.5" r="7.5" fill="#ed7d31" />
<circle cx="3008.6" cy="1220.5" r="7.5" fill="#ed7d31" />
<circle cx="3030.2" cy="1220.5" r="7.5" fill="#ed7d31" />
<circle cx="3051.9" cy="1220.5" r="7.5" fill="#ed7d31" />
<circle cx="3073.6" cy="1220.5" r="7.5" fill="#ed7d31" />
<circle cx="3095.2" cy="1220.5" r="7.5" fill="#ed7d31" />
<circle cx="3116.9" cy="1230.9" r="7.5" fill="#ed7d31" />
<circle cx="3138.5" cy="1230.9" r="7.5" fill="#ed7d31" />
<circle cx="3160.2" cy="1262.2" r="7.5" fill="#ed7d31" />
<circle cx="3181.8" cy="1262.2" r="7.5" fill="#ed7d31" />
<circle cx="3203.5" cy="1262.2" r="7.5" fill="#ed7d31" />
<circle cx="3225.1" cy="1293.5" r="7.5" fill="#ed7d31" />
<circle cx="3246.8" cy="1293.5" r="7.5" fill="#ed7d31" />
<circle cx="3257.6" cy="1325.3" r="7.5" fill="#ed7d31" />
<circle cx="3268.4" cy="1347.2" r="7.5" fill="#ed7d31" />
<circle cx="3290.1" cy="1378.0" r="7.5" fill="#ed7d31" />
<circle cx="3311.7" cy="1378.0" r="7.5" fill="#ed7d31" />
<circle cx="3322.5" cy="1378.0" r="7.5" fill="#ed7d31" />
<circle cx="3333.4" cy="1420.3" r="7.5" fill="#ed7d31" />
<circle cx="3344.2" cy="1420.3" r="7.5" fill="#ed7d31" />
<circle cx="3355.0" cy="1420.3" r="7.5" fill="#ed7d31" />
<circle cx="3376.7" cy="1451.6" r="7.5" fill="#ed7d31" />
<circle cx="3398.3" cy="1451.6" r="7.5" fill="#ed7d31" />
<circle cx="3420.0" cy="1536.1" r="7.5" fill="#ed7d31" />
<circle cx="3441.6" cy="1567.9" r="7.5" fill="#ed7d31" />
<circle cx="3463.2" cy="1609.7" r="7.5" fill="#ed7d31" />
<circle cx="3484.9" cy="1609.5" r="7.5" fill="#ed7d31" />
<circle cx="3506.6" cy="1609.5" r="7.5" fill="#ed7d31" />
<circle cx="3517.4" cy="1662.0" r="7.5" fill="#ed7d31" />
<circle cx="3528.2" cy="1662.0" r="7.5" fill="#ed7d31" />
<circle cx="3539.0" cy="1693.2" r="7.5" fill="#ed7d31" />
<circle cx="3549.9" cy="1724.5" r="7.5" fill="#ed7d31" />
<circle cx="3571.5" cy="1724.5" r="7.5" fill="#ed7d31" />
<circle cx="3593.2" cy="1798.2" r="7.5" fill="#ed7d31" />
<circle cx="3604.0" cy="1851.0" r="7.5" fill="#ed7d31" />
<line x1="2667.5" y1="1242.5" x2="2667.5" y2="1282.0" stroke="#e8192c" stroke-width="4" />
<path d="M2667.5,1222.5 L2678.5,1257.5 L2667.5,1249.5 L2656.5,1257.5 Z" fill="#e8192c"/>
<text x="2596.2" y="1347.2" font-size="44.9" text-anchor="start" fill="#1a1a1a" textLength="308.0" lengthAdjust="spacingAndGlyphs" >Vehicle/Taurine</text>
<line x1="2575.3" y1="1167.3" x2="2575.3" y2="1852.7" stroke="#1a1a1a" stroke-width="4" />
<line x1="2555.0" y1="1850.7" x2="3786.5" y2="1850.7" stroke="#1a1a1a" stroke-width="4" />
<line x1="2555.0" y1="1220.3" x2="2575.3" y2="1220.3" stroke="#1a1a1a" stroke-width="3" />
<line x1="2555.0" y1="1378.5" x2="2575.3" y2="1378.5" stroke="#1a1a1a" stroke-width="3" />
<line x1="2555.0" y1="1537.6" x2="2575.3" y2="1537.6" stroke="#1a1a1a" stroke-width="3" />
<line x1="2555.0" y1="1689.2" x2="2575.3" y2="1689.2" stroke="#1a1a1a" stroke-width="3" />
<text x="2540.0" y="1235.3" font-size="47.0" text-anchor="end" fill="#1a1a1a" font-weight="bold" textLength="71.0" lengthAdjust="spacingAndGlyphs"  stroke="#1a1a1a" stroke-width="0.9" stroke-linejoin="round">100</text>
<text x="2540.0" y="1393.5" font-size="47.0" text-anchor="end" fill="#1a1a1a" font-weight="bold" textLength="46.0" lengthAdjust="spacingAndGlyphs"  stroke="#1a1a1a" stroke-width="0.9" stroke-linejoin="round">75</text>
<text x="2540.0" y="1552.6" font-size="47.0" text-anchor="end" fill="#1a1a1a" font-weight="bold" textLength="46.0" lengthAdjust="spacingAndGlyphs"  stroke="#1a1a1a" stroke-width="0.9" stroke-linejoin="round">50</text>
<text x="2540.0" y="1704.2" font-size="47.0" text-anchor="end" fill="#1a1a1a" font-weight="bold" textLength="46.0" lengthAdjust="spacingAndGlyphs"  stroke="#1a1a1a" stroke-width="0.9" stroke-linejoin="round">25</text>
<text x="2540.0" y="1865.7" font-size="47.0" text-anchor="end" fill="#1a1a1a" font-weight="bold" textLength="22.0" lengthAdjust="spacingAndGlyphs"  stroke="#1a1a1a" stroke-width="0.9" stroke-linejoin="round">0</text>
<line x1="2574.0" y1="1850.7" x2="2574.0" y2="1869.7" stroke="#1a1a1a" stroke-width="3" />
<text x="2568.0" y="1917.8" font-size="47.0" text-anchor="middle" fill="#1a1a1a" font-weight="bold" textLength="47.0" lengthAdjust="spacingAndGlyphs"  stroke="#1a1a1a" stroke-width="0.9" stroke-linejoin="round">12</text>
<line x1="2741.0" y1="1850.7" x2="2741.0" y2="1869.7" stroke="#1a1a1a" stroke-width="3" />
<text x="2741.0" y="1917.8" font-size="47.0" text-anchor="middle" fill="#1a1a1a" font-weight="bold" textLength="47.0" lengthAdjust="spacingAndGlyphs"  stroke="#1a1a1a" stroke-width="0.9" stroke-linejoin="round">16</text>
<line x1="2918.3" y1="1850.7" x2="2918.3" y2="1869.7" stroke="#1a1a1a" stroke-width="3" />
<text x="2918.3" y="1917.8" font-size="47.0" text-anchor="middle" fill="#1a1a1a" font-weight="bold" textLength="47.0" lengthAdjust="spacingAndGlyphs"  stroke="#1a1a1a" stroke-width="0.9" stroke-linejoin="round">20</text>
<line x1="3092.8" y1="1850.7" x2="3092.8" y2="1869.7" stroke="#1a1a1a" stroke-width="3" />
<text x="3090.0" y="1917.8" font-size="47.0" text-anchor="middle" fill="#1a1a1a" font-weight="bold" textLength="47.0" lengthAdjust="spacingAndGlyphs"  stroke="#1a1a1a" stroke-width="0.9" stroke-linejoin="round">24</text>
<line x1="3266.3" y1="1850.7" x2="3266.3" y2="1869.7" stroke="#1a1a1a" stroke-width="3" />
<text x="3267.0" y="1917.8" font-size="47.0" text-anchor="middle" fill="#1a1a1a" font-weight="bold" textLength="47.0" lengthAdjust="spacingAndGlyphs"  stroke="#1a1a1a" stroke-width="0.9" stroke-linejoin="round">28</text>
<line x1="3438.8" y1="1850.7" x2="3438.8" y2="1869.7" stroke="#1a1a1a" stroke-width="3" />
<text x="3439.8" y="1917.8" font-size="47.0" text-anchor="middle" fill="#1a1a1a" font-weight="bold" textLength="47.0" lengthAdjust="spacingAndGlyphs"  stroke="#1a1a1a" stroke-width="0.9" stroke-linejoin="round">32</text>
<line x1="3610.6" y1="1850.7" x2="3610.6" y2="1869.7" stroke="#1a1a1a" stroke-width="3" />
<text x="3611.6" y="1917.8" font-size="47.0" text-anchor="middle" fill="#1a1a1a" font-weight="bold" textLength="47.0" lengthAdjust="spacingAndGlyphs"  stroke="#1a1a1a" stroke-width="0.9" stroke-linejoin="round">36</text>
<line x1="3783.5" y1="1850.7" x2="3783.5" y2="1869.7" stroke="#1a1a1a" stroke-width="3" />
<text x="3783.0" y="1917.8" font-size="47.0" text-anchor="middle" fill="#1a1a1a" font-weight="bold" textLength="47.0" lengthAdjust="spacingAndGlyphs"  stroke="#1a1a1a" stroke-width="0.9" stroke-linejoin="round">40</text>
<text x="2160.5" y="1923.3" font-size="44.9" text-anchor="start" fill="#1a1a1a" font-weight="bold" textLength="291.0" lengthAdjust="spacingAndGlyphs" >Age (Months)</text>
<text x="2419.8" y="1476.0" font-size="44.9" text-anchor="middle" fill="#1a1a1a" font-weight="bold" textLength="257.0" lengthAdjust="spacingAndGlyphs" transform="rotate(-90 2419.8 1476.0)" >Survival (%)</text>
<text x="3485.5" y="1272.4" font-size="44.9" text-anchor="start" fill="#1a1a1a" textLength="214.0" lengthAdjust="spacingAndGlyphs" >p &lt; 0.0001</text>
<line x1="3806.9" y1="1194.0" x2="3884.9" y2="1194.0" stroke="#4472b8" stroke-width="8" />
<circle cx="3845.7" cy="1194.0" r="13.6" fill="#4472b8" />
<circle cx="3845.7" cy="1194.0" r="7.9" fill="#6b78b4" />
<line x1="3806.9" y1="1257.3" x2="3884.9" y2="1257.3" stroke="#ed7d31" stroke-width="8" />
<circle cx="3845.7" cy="1257.3" r="13.6" fill="#ed7d31" />
<circle cx="3845.7" cy="1257.3" r="7.9" fill="#c8902e" />
<text x="3899.2" y="1204.8" font-size="47.5" text-anchor="start" fill="#1a1a1a" font-weight="bold" textLength="279.5" lengthAdjust="spacingAndGlyphs" >WT + Vehicle</text>
<text x="4193.8" y="1204.8" font-size="47.0" text-anchor="start" fill="#1a1a1a" textLength="131.0" lengthAdjust="spacingAndGlyphs" >(n=64)</text>
<text x="3899.2" y="1274.8" font-size="47.5" text-anchor="start" fill="#1a1a1a" font-weight="bold" textLength="281.5" lengthAdjust="spacingAndGlyphs" >WT + Taurine</text>
<text x="4196.9" y="1274.8" font-size="47.0" text-anchor="start" fill="#1a1a1a" textLength="131.0" lengthAdjust="spacingAndGlyphs" >(n=60)</text>
<text x="2335.3" y="1078.0" font-size="86" text-anchor="start" fill="#1a1a1a" font-weight="bold" textLength="41.8" lengthAdjust="spacingAndGlyphs"  stroke="#1a1a1a" stroke-width="3.2" stroke-linejoin="miter">E</text>
<circle cx="2517.5" cy="1093.8" r="23.8" fill="#f6faf6" stroke="#111" stroke-width="4.4"/>
<line x1="2537.5" y1="1079.0" x2="2560.0" y2="1063.0" stroke="#111" stroke-width="3.6" />
<path d="M2570.8,1055.4 L2560.6,1072 L2557.8,1063.6 L2552.2,1059.3 Z" fill="#111"/>
</g>
<g id="pf">
<line x1="423.9" y1="2388.0" x2="423.9" y2="3077.0" stroke="#1a1a1a" stroke-width="4" />
<line x1="402.5" y1="3075.0" x2="1468.5" y2="3075.0" stroke="#1a1a1a" stroke-width="4" />
<line x1="403.0" y1="2938.0" x2="423.9" y2="2938.0" stroke="#1a1a1a" stroke-width="2.8" />
<line x1="403.0" y1="2801.0" x2="423.9" y2="2801.0" stroke="#1a1a1a" stroke-width="2.8" />
<line x1="403.0" y1="2664.0" x2="423.9" y2="2664.0" stroke="#1a1a1a" stroke-width="2.8" />
<line x1="403.0" y1="2527.0" x2="423.9" y2="2527.0" stroke="#1a1a1a" stroke-width="2.8" />
<line x1="403.0" y1="2390.0" x2="423.9" y2="2390.0" stroke="#1a1a1a" stroke-width="2.8" />
<line x1="423.9" y1="2735.0" x2="1057.9" y2="2735.0" stroke="#d2d2d2" stroke-width="3" />
<path d="M423.9,2389.9 L451.1,2389.9 L478.3,2389.9 L505.5,2389.9 L532.7,2389.9 L560.0,2389.9 L587.2,2389.9 L614.4,2389.9 L723.2,2403.4 L804.8,2453.4 L859.3,2521.3 L913.7,2595.7 L968.1,2658.1 L1049.7,2724.5 L1104.2,2834.3 L1158.6,2945.2 L1213.0,3000.1 L1267.4,3032.6 L1321.8,3069.0 L1376.2,3075.0" stroke="#1a1a1a" stroke-width="3.7" fill="none" stroke-linejoin="round"/>
<circle cx="723.2" cy="2403.4" r="10.272" fill="#1a1a1a" />
<circle cx="804.8" cy="2453.4" r="10.272" fill="#1a1a1a" />
<circle cx="859.3" cy="2521.3" r="10.272" fill="#1a1a1a" />
<circle cx="913.7" cy="2595.7" r="10.272" fill="#1a1a1a" />
<circle cx="968.1" cy="2658.1" r="10.272" fill="#1a1a1a" />
<circle cx="1049.7" cy="2724.5" r="10.272" fill="#1a1a1a" />
<circle cx="1104.2" cy="2834.3" r="10.272" fill="#1a1a1a" />
<circle cx="1158.6" cy="2945.2" r="10.272" fill="#1a1a1a" />
<circle cx="1213.0" cy="3000.1" r="10.272" fill="#1a1a1a" />
<circle cx="1267.4" cy="3032.6" r="10.272" fill="#1a1a1a" />
<circle cx="1321.8" cy="3069.0" r="10.272" fill="#1a1a1a" />
<circle cx="1376.2" cy="3075.0" r="10.272" fill="#1a1a1a" />
<path d="M423.9,2389.9 L451.1,2389.9 L478.3,2389.9 L505.5,2389.9 L532.7,2389.9 L560.0,2389.9 L587.2,2389.9 L614.4,2389.9 L723.2,2410.9 L804.8,2466.3 L859.3,2507.3 L913.7,2554.7 L968.1,2652.1 L1049.7,2735.5 L1104.2,2829.3 L1158.6,2939.2 L1213.0,3014.1 L1267.4,3041.6 L1321.8,3070.5 L1376.2,3075.0" stroke="#96612b" stroke-width="3.7" fill="none" stroke-linejoin="round"/>
<path d="M723.2,2399.7 L734.4,2410.9 L723.2,2422.2 L712.0,2410.9 Z" fill="#96612b"/>
<path d="M804.8,2455.1 L816.1,2466.3 L804.8,2477.6 L793.6,2466.3 Z" fill="#96612b"/>
<path d="M859.3,2496.1 L870.5,2507.3 L859.3,2518.5 L848.0,2507.3 Z" fill="#96612b"/>
<path d="M913.7,2543.5 L924.9,2554.7 L913.7,2566.0 L902.4,2554.7 Z" fill="#96612b"/>
<path d="M968.1,2640.9 L979.3,2652.1 L968.1,2663.3 L956.9,2652.1 Z" fill="#96612b"/>
<path d="M1049.7,2724.2 L1061.0,2735.5 L1049.7,2746.7 L1038.5,2735.5 Z" fill="#96612b"/>
<path d="M1104.2,2818.1 L1115.4,2829.3 L1104.2,2840.6 L1092.9,2829.3 Z" fill="#96612b"/>
<path d="M1158.6,2928.0 L1169.8,2939.2 L1158.6,2950.4 L1147.3,2939.2 Z" fill="#96612b"/>
<path d="M1213.0,3002.9 L1224.2,3014.1 L1213.0,3025.3 L1201.8,3014.1 Z" fill="#96612b"/>
<path d="M1267.4,3030.3 L1278.6,3041.6 L1267.4,3052.8 L1256.2,3041.6 Z" fill="#96612b"/>
<path d="M1321.8,3059.3 L1333.1,3070.5 L1321.8,3081.8 L1310.6,3070.5 Z" fill="#96612b"/>
<path d="M1376.2,3063.8 L1387.5,3075.0 L1376.2,3086.2 L1365.0,3075.0 Z" fill="#96612b"/>
<path d="M423.9,2389.9 L451.1,2389.9 L478.3,2389.9 L505.5,2389.9 L532.7,2389.9 L560.0,2389.9 L587.2,2389.9 L614.4,2389.9 L723.2,2399.9 L804.8,2448.4 L859.3,2538.7 L913.7,2636.1 L968.1,2697.0 L1049.7,2747.0 L1104.2,2853.3 L1158.6,2951.7 L1213.0,3005.1 L1267.4,3040.6 L1321.8,3059.0 L1376.2,3072.5" stroke="#15ab4c" stroke-width="3.7" fill="none" stroke-linejoin="round"/>
<path d="M723.2,2411.7 L734.4,2391.9 L712.0,2391.9 Z" fill="#15ab4c"/>
<path d="M804.8,2460.1 L816.1,2440.3 L793.6,2440.3 Z" fill="#15ab4c"/>
<path d="M859.3,2550.5 L870.5,2530.7 L848.0,2530.7 Z" fill="#15ab4c"/>
<path d="M913.7,2647.9 L924.9,2628.1 L902.4,2628.1 Z" fill="#15ab4c"/>
<path d="M968.1,2708.8 L979.3,2689.0 L956.9,2689.0 Z" fill="#15ab4c"/>
<path d="M1049.7,2758.7 L1061.0,2738.9 L1038.5,2738.9 Z" fill="#15ab4c"/>
<path d="M1104.2,2865.1 L1115.4,2845.3 L1092.9,2845.3 Z" fill="#15ab4c"/>
<path d="M1158.6,2963.4 L1169.8,2943.7 L1147.3,2943.7 Z" fill="#15ab4c"/>
<path d="M1213.0,3016.9 L1224.2,2997.1 L1201.8,2997.1 Z" fill="#15ab4c"/>
<path d="M1267.4,3052.3 L1278.6,3032.5 L1256.2,3032.5 Z" fill="#15ab4c"/>
<path d="M1321.8,3070.8 L1333.1,3051.0 L1310.6,3051.0 Z" fill="#15ab4c"/>
<path d="M1376.2,3084.3 L1387.5,3064.5 L1365.0,3064.5 Z" fill="#15ab4c"/>
<path d="M423.9,2389.9 L451.1,2389.9 L478.3,2389.9 L505.5,2389.9 L532.7,2389.9 L560.0,2389.9 L587.2,2389.9 L614.4,2389.9 L723.2,2439.9 L804.8,2527.3 L859.3,2569.7 L913.7,2624.6 L968.1,2734.5 L1049.7,2850.8 L1104.2,2960.2 L1158.6,3022.6 L1213.0,3055.5 L1267.4,3075.0" stroke="#f79d3b" stroke-width="3.7" fill="none" stroke-linejoin="round"/>
<path d="M723.2,2428.1 L734.4,2447.9 L712.0,2447.9 Z" fill="#f79d3b"/>
<path d="M804.8,2515.5 L816.1,2535.3 L793.6,2535.3 Z" fill="#f79d3b"/>
<path d="M859.3,2557.9 L870.5,2577.7 L848.0,2577.7 Z" fill="#f79d3b"/>
<path d="M913.7,2612.9 L924.9,2632.7 L902.4,2632.7 Z" fill="#f79d3b"/>
<path d="M968.1,2722.7 L979.3,2742.5 L956.9,2742.5 Z" fill="#f79d3b"/>
<path d="M1049.7,2839.0 L1061.0,2858.8 L1038.5,2858.8 Z" fill="#f79d3b"/>
<path d="M1104.2,2948.4 L1115.4,2968.2 L1092.9,2968.2 Z" fill="#f79d3b"/>
<path d="M1158.6,3010.8 L1169.8,3030.6 L1147.3,3030.6 Z" fill="#f79d3b"/>
<path d="M1213.0,3043.8 L1224.2,3063.6 L1201.8,3063.6 Z" fill="#f79d3b"/>
<path d="M423.9,2389.9 L451.1,2389.9 L478.3,2389.9 L505.5,2389.9 L532.7,2389.9 L560.0,2389.9 L587.2,2389.9 L614.4,2389.9 L723.2,2458.9 L804.8,2568.2 L859.3,2628.6 L913.7,2723.5 L968.1,2849.3 L1049.7,2952.7 L1104.2,3014.1 L1158.6,3055.0 L1213.0,3075.5 L1267.4,3075.0" stroke="#9c9ea0" stroke-width="3.7" fill="none" stroke-linejoin="round"/>
<rect x="413.7" y="2379.8" width="20.3" height="20.3" fill="#9c9ea0" stroke="none" stroke-width="0" />
<rect x="440.9" y="2379.8" width="20.3" height="20.3" fill="#9c9ea0" stroke="none" stroke-width="0" />
<rect x="468.2" y="2379.8" width="20.3" height="20.3" fill="#9c9ea0" stroke="none" stroke-width="0" />
<rect x="495.4" y="2379.8" width="20.3" height="20.3" fill="#9c9ea0" stroke="none" stroke-width="0" />
<rect x="522.6" y="2379.8" width="20.3" height="20.3" fill="#9c9ea0" stroke="none" stroke-width="0" />
<rect x="549.8" y="2379.8" width="20.3" height="20.3" fill="#9c9ea0" stroke="none" stroke-width="0" />
<rect x="577.0" y="2379.8" width="20.3" height="20.3" fill="#9c9ea0" stroke="none" stroke-width="0" />
<rect x="604.2" y="2379.8" width="20.3" height="20.3" fill="#9c9ea0" stroke="none" stroke-width="0" />
<rect x="713.0" y="2448.7" width="20.3" height="20.3" fill="#9c9ea0" stroke="none" stroke-width="0" />
<rect x="794.7" y="2558.0" width="20.3" height="20.3" fill="#9c9ea0" stroke="none" stroke-width="0" />
<rect x="849.1" y="2618.5" width="20.3" height="20.3" fill="#9c9ea0" stroke="none" stroke-width="0" />
<rect x="903.5" y="2713.3" width="20.3" height="20.3" fill="#9c9ea0" stroke="none" stroke-width="0" />
<rect x="957.9" y="2839.2" width="20.3" height="20.3" fill="#9c9ea0" stroke="none" stroke-width="0" />
<rect x="1039.6" y="2942.5" width="20.3" height="20.3" fill="#9c9ea0" stroke="none" stroke-width="0" />
<rect x="1094.0" y="3003.9" width="20.3" height="20.3" fill="#9c9ea0" stroke="none" stroke-width="0" />
<rect x="1148.4" y="3044.9" width="20.3" height="20.3" fill="#9c9ea0" stroke="none" stroke-width="0" />
<rect x="1202.8" y="3065.3" width="20.3" height="20.3" fill="#9c9ea0" stroke="none" stroke-width="0" />
<rect x="1257.2" y="3064.8" width="20.3" height="20.3" fill="#9c9ea0" stroke="none" stroke-width="0" />
<path d="M423.9,2389.9 L451.1,2389.9 L478.3,2389.9 L505.5,2389.9 L532.7,2389.9 L560.0,2389.9 L587.2,2389.9 L614.4,2389.9 L723.2,2457.4 L804.8,2561.7 L859.3,2636.1 L913.7,2712.5 L968.1,2821.9 L1049.7,2924.2 L1104.2,2994.1 L1158.6,3047.5 L1213.0,3075.0 L1267.4,3075.0" stroke="#6498d5" stroke-width="3.7" fill="none" stroke-linejoin="round"/>
<circle cx="423.9" cy="2389.9" r="10.272" fill="#6498d5" />
<circle cx="451.1" cy="2389.9" r="10.272" fill="#6498d5" />
<circle cx="478.3" cy="2389.9" r="10.272" fill="#6498d5" />
<circle cx="505.5" cy="2389.9" r="10.272" fill="#6498d5" />
<circle cx="532.7" cy="2389.9" r="10.272" fill="#6498d5" />
<circle cx="560.0" cy="2389.9" r="10.272" fill="#6498d5" />
<circle cx="587.2" cy="2389.9" r="10.272" fill="#6498d5" />
<circle cx="614.4" cy="2389.9" r="10.272" fill="#6498d5" />
<circle cx="723.2" cy="2457.4" r="10.272" fill="#6498d5" />
<circle cx="804.8" cy="2561.7" r="10.272" fill="#6498d5" />
<circle cx="859.3" cy="2636.1" r="10.272" fill="#6498d5" />
<circle cx="913.7" cy="2712.5" r="10.272" fill="#6498d5" />
<circle cx="968.1" cy="2821.9" r="10.272" fill="#6498d5" />
<circle cx="1049.7" cy="2924.2" r="10.272" fill="#6498d5" />
<circle cx="1104.2" cy="2994.1" r="10.272" fill="#6498d5" />
<circle cx="1158.6" cy="3047.5" r="10.272" fill="#6498d5" />
<circle cx="1213.0" cy="3075.0" r="10.272" fill="#6498d5" />
<circle cx="1267.4" cy="3075.0" r="10.272" fill="#6498d5" />
<text x="382.0" y="2425.7" font-size="48.1" text-anchor="end" fill="#1a1a1a" font-weight="bold" textLength="72.0" lengthAdjust="spacingAndGlyphs"  stroke="#1a1a1a" stroke-width="0.9" stroke-linejoin="round">100</text>
<text x="382.0" y="2546.9" font-size="48.1" text-anchor="end" fill="#1a1a1a" font-weight="bold" textLength="48.0" lengthAdjust="spacingAndGlyphs"  stroke="#1a1a1a" stroke-width="0.9" stroke-linejoin="round">80</text>
<text x="382.0" y="2683.7" font-size="48.1" text-anchor="end" fill="#1a1a1a" font-weight="bold" textLength="48.0" lengthAdjust="spacingAndGlyphs"  stroke="#1a1a1a" stroke-width="0.9" stroke-linejoin="round">60</text>
<text x="382.0" y="2819.8" font-size="48.1" text-anchor="end" fill="#1a1a1a" font-weight="bold" textLength="48.0" lengthAdjust="spacingAndGlyphs"  stroke="#1a1a1a" stroke-width="0.9" stroke-linejoin="round">40</text>
<text x="382.0" y="2956.6" font-size="48.1" text-anchor="end" fill="#1a1a1a" font-weight="bold" textLength="48.0" lengthAdjust="spacingAndGlyphs"  stroke="#1a1a1a" stroke-width="0.9" stroke-linejoin="round">20</text>
<text x="382.0" y="3089.0" font-size="48.1" text-anchor="end" fill="#1a1a1a" font-weight="bold" textLength="20.0" lengthAdjust="spacingAndGlyphs"  stroke="#1a1a1a" stroke-width="0.9" stroke-linejoin="round">0</text>
<line x1="423.9" y1="3075.0" x2="423.9" y2="3093.0" stroke="#1a1a1a" stroke-width="2.8" />
<text x="422.4" y="3141.4" font-size="48.1" text-anchor="middle" fill="#1a1a1a" font-weight="bold" textLength="23.0" lengthAdjust="spacingAndGlyphs"  stroke="#1a1a1a" stroke-width="0.9" stroke-linejoin="round">0</text>
<line x1="560.0" y1="3075.0" x2="560.0" y2="3093.0" stroke="#1a1a1a" stroke-width="2.8" />
<text x="560.8" y="3141.4" font-size="48.1" text-anchor="middle" fill="#1a1a1a" font-weight="bold" textLength="23.0" lengthAdjust="spacingAndGlyphs"  stroke="#1a1a1a" stroke-width="0.9" stroke-linejoin="round">5</text>
<line x1="696.0" y1="3075.0" x2="696.0" y2="3093.0" stroke="#1a1a1a" stroke-width="2.8" />
<text x="699.6" y="3141.4" font-size="48.1" text-anchor="middle" fill="#1a1a1a" font-weight="bold" textLength="47.0" lengthAdjust="spacingAndGlyphs"  stroke="#1a1a1a" stroke-width="0.9" stroke-linejoin="round">10</text>
<line x1="832.0" y1="3075.0" x2="832.0" y2="3093.0" stroke="#1a1a1a" stroke-width="2.8" />
<text x="833.4" y="3141.4" font-size="48.1" text-anchor="middle" fill="#1a1a1a" font-weight="bold" textLength="47.0" lengthAdjust="spacingAndGlyphs"  stroke="#1a1a1a" stroke-width="0.9" stroke-linejoin="round">15</text>
<line x1="968.1" y1="3075.0" x2="968.1" y2="3093.0" stroke="#1a1a1a" stroke-width="2.8" />
<text x="970.2" y="3141.4" font-size="48.1" text-anchor="middle" fill="#1a1a1a" font-weight="bold" textLength="47.0" lengthAdjust="spacingAndGlyphs"  stroke="#1a1a1a" stroke-width="0.9" stroke-linejoin="round">20</text>
<line x1="1104.2" y1="3075.0" x2="1104.2" y2="3093.0" stroke="#1a1a1a" stroke-width="2.8" />
<text x="1105.0" y="3141.4" font-size="48.1" text-anchor="middle" fill="#1a1a1a" font-weight="bold" textLength="47.0" lengthAdjust="spacingAndGlyphs"  stroke="#1a1a1a" stroke-width="0.9" stroke-linejoin="round">25</text>
<line x1="1240.2" y1="3075.0" x2="1240.2" y2="3093.0" stroke="#1a1a1a" stroke-width="2.8" />
<text x="1243.8" y="3141.4" font-size="48.1" text-anchor="middle" fill="#1a1a1a" font-weight="bold" textLength="47.0" lengthAdjust="spacingAndGlyphs"  stroke="#1a1a1a" stroke-width="0.9" stroke-linejoin="round">30</text>
<line x1="1376.2" y1="3075.0" x2="1376.2" y2="3093.0" stroke="#1a1a1a" stroke-width="2.8" />
<text x="1381.0" y="3141.4" font-size="48.1" text-anchor="middle" fill="#1a1a1a" font-weight="bold" textLength="47.0" lengthAdjust="spacingAndGlyphs"  stroke="#1a1a1a" stroke-width="0.9" stroke-linejoin="round">35</text>
<text x="82.2" y="3136.5" font-size="46.0" text-anchor="start" fill="#1a1a1a" font-weight="bold" textLength="232.0" lengthAdjust="spacingAndGlyphs" >Age (days)</text>
<text x="254.0" y="2712.0" font-size="44.9" text-anchor="middle" fill="#1a1a1a" font-weight="bold" textLength="258.0" lengthAdjust="spacingAndGlyphs" transform="rotate(-90 254.0 2712.0)" >Survival (%)</text>
<text x="459.9" y="2708.2" font-size="43.9" text-anchor="start" fill="#1a1a1a" textLength="318.0" lengthAdjust="spacingAndGlyphs" >Median lifespan</text>
<line x1="464.8" y1="2760.4" x2="537.8" y2="2760.4" stroke="#6498d5" stroke-width="3.6" />
<circle cx="500.8" cy="2760.4" r="10.682879999999999" fill="#6498d5" />
<text x="542.3" y="2774.4" font-size="39.2" text-anchor="start" fill="#6498d5" textLength="197.0" lengthAdjust="spacingAndGlyphs" >19.52±0.40</text>
<line x1="468.1" y1="2816.9" x2="541.1" y2="2816.9" stroke="#9c9ea0" stroke-width="3.6" />
<rect x="493.5" y="2806.3" width="21.1" height="21.1" fill="#9c9ea0" stroke="none" stroke-width="0" />
<text x="545.8" y="2830.3" font-size="39.2" text-anchor="start" fill="#9c9ea0" textLength="197.0" lengthAdjust="spacingAndGlyphs" >19.20±0.36</text>
<line x1="468.1" y1="2874.3" x2="541.1" y2="2874.3" stroke="#f79d3b" stroke-width="3.6" />
<path d="M504.1,2862.1 L515.8,2882.6 L492.4,2882.6 Z" fill="#f79d3b"/>
<text x="545.8" y="2886.8" font-size="39.2" text-anchor="start" fill="#f79d3b" textLength="214.5" lengthAdjust="spacingAndGlyphs" >20.96±0.38*</text>
<line x1="468.1" y1="2929.2" x2="541.1" y2="2929.2" stroke="#15ab4c" stroke-width="3.6" />
<path d="M504.1,2941.4 L515.8,2920.9 L492.4,2920.9 Z" fill="#15ab4c"/>
<text x="547.3" y="2941.7" font-size="39.2" text-anchor="start" fill="#15ab4c" textLength="245.7" lengthAdjust="spacingAndGlyphs" >22.66±0.41***</text>
<line x1="468.1" y1="2981.6" x2="541.1" y2="2981.6" stroke="#96612b" stroke-width="3.6" />
<path d="M504.1,2969.9 L515.8,2981.6 L504.1,2993.3 L492.4,2981.6 Z" fill="#96612b"/>
<text x="547.3" y="2994.0" font-size="39.2" text-anchor="start" fill="#96612b" textLength="245.7" lengthAdjust="spacingAndGlyphs" >23.23±0.40***</text>
<line x1="468.1" y1="3038.0" x2="541.1" y2="3038.0" stroke="#1a1a1a" stroke-width="3.6" />
<circle cx="504.1" cy="3038.0" r="10.682879999999999" fill="#1a1a1a" />
<text x="548.8" y="3053.0" font-size="39.2" text-anchor="start" fill="#1a1a1a" textLength="233.0" lengthAdjust="spacingAndGlyphs" >23.19±039***</text>
<text x="974.3" y="2136.0" font-size="43.9" text-anchor="start" fill="#1a1a1a" textLength="202.0" lengthAdjust="spacingAndGlyphs" >T=Taurine</text>
<line x1="973.0" y1="2179.5" x2="1046.5" y2="2179.5" stroke="#6498d5" stroke-width="4" />
<circle cx="1009.8" cy="2179.5" r="10.99104" fill="#6498d5" />
<text x="1061.7" y="2193.0" font-size="47.0" text-anchor="start" fill="#1a1a1a" font-weight="bold" textLength="127.0" lengthAdjust="spacingAndGlyphs" >T 0<tspan font-family="Liberation Serif, serif" font-weight="normal">µ</tspan>M</text>
<text x="1218.8" y="2193.0" font-size="44.9" text-anchor="start" fill="#1a1a1a" textLength="157.0" lengthAdjust="spacingAndGlyphs" >(n=203)</text>
<line x1="973.0" y1="2248.2" x2="1046.5" y2="2248.2" stroke="#9c9ea0" stroke-width="4" />
<rect x="998.9" y="2237.3" width="21.8" height="21.8" fill="#9c9ea0" stroke="none" stroke-width="0" />
<text x="1061.7" y="2263.2" font-size="47.0" text-anchor="start" fill="#1a1a1a" font-weight="bold" textLength="153.0" lengthAdjust="spacingAndGlyphs" >T 10<tspan font-family="Liberation Serif, serif" font-weight="normal">µ</tspan>M</text>
<text x="1231.0" y="2263.2" font-size="44.9" text-anchor="start" fill="#1a1a1a" textLength="157.0" lengthAdjust="spacingAndGlyphs" >(n=166)</text>
<line x1="973.0" y1="2317.8" x2="1046.5" y2="2317.8" stroke="#f79d3b" stroke-width="4" />
<path d="M1009.8,2305.2 L1021.8,2326.4 L997.8,2326.4 Z" fill="#f79d3b"/>
<text x="1061.7" y="2334.2" font-size="47.0" text-anchor="start" fill="#1a1a1a" font-weight="bold" textLength="153.0" lengthAdjust="spacingAndGlyphs" >T 50<tspan font-family="Liberation Serif, serif" font-weight="normal">µ</tspan>M</text>
<text x="1231.0" y="2334.2" font-size="44.9" text-anchor="start" fill="#1a1a1a" textLength="157.0" lengthAdjust="spacingAndGlyphs" >(n=182)</text>
<line x1="973.0" y1="2385.0" x2="1046.5" y2="2385.0" stroke="#15ab4c" stroke-width="4" />
<path d="M1009.8,2397.6 L1021.8,2376.4 L997.8,2376.4 Z" fill="#15ab4c"/>
<text x="1061.7" y="2404.0" font-size="47.0" text-anchor="start" fill="#1a1a1a" font-weight="bold" textLength="178.0" lengthAdjust="spacingAndGlyphs" >T 100<tspan font-family="Liberation Serif, serif" font-weight="normal">µ</tspan>M</text>
<text x="1257.5" y="2404.0" font-size="44.9" text-anchor="start" fill="#1a1a1a" textLength="157.0" lengthAdjust="spacingAndGlyphs" >(n=178)</text>
<line x1="973.0" y1="2452.4" x2="1046.5" y2="2452.4" stroke="#96612b" stroke-width="4" />
<path d="M1009.8,2440.4 L1021.8,2452.4 L1009.8,2464.4 L997.8,2452.4 Z" fill="#96612b"/>
<text x="1061.7" y="2467.8" font-size="47.0" text-anchor="start" fill="#1a1a1a" font-weight="bold" textLength="178.0" lengthAdjust="spacingAndGlyphs" >T 150<tspan font-family="Liberation Serif, serif" font-weight="normal">µ</tspan>M</text>
<text x="1257.5" y="2467.8" font-size="44.9" text-anchor="start" fill="#1a1a1a" textLength="157.0" lengthAdjust="spacingAndGlyphs" >(n=205)</text>
<line x1="973.0" y1="2523.0" x2="1046.5" y2="2523.0" stroke="#1a1a1a" stroke-width="4" />
<circle cx="1009.8" cy="2523.0" r="10.99104" fill="#1a1a1a" />
<text x="1061.7" y="2539.8" font-size="47.0" text-anchor="start" fill="#1a1a1a" font-weight="bold" textLength="178.0" lengthAdjust="spacingAndGlyphs" >T 300<tspan font-family="Liberation Serif, serif" font-weight="normal">µ</tspan>M</text>
<text x="1257.5" y="2539.8" font-size="44.9" text-anchor="start" fill="#1a1a1a" textLength="157.0" lengthAdjust="spacingAndGlyphs" >(n=267)</text>
<text x="4.2" y="2119.6" font-size="86" text-anchor="start" fill="#1a1a1a" font-weight="bold" textLength="44.9" lengthAdjust="spacingAndGlyphs"  stroke="#1a1a1a" stroke-width="3.2" stroke-linejoin="miter">F</text>
<text x="93.5" y="2258.0" font-size="44.9" text-anchor="start" fill="#000" font-weight="bold" font-style="italic" textLength="226.5" lengthAdjust="spacingAndGlyphs" >C. elegans</text>
<circle cx="445.6" cy="2233.3" r="22.6" fill="#f6faf6" stroke="#111" stroke-width="4.4"/>
<line x1="445.6" y1="2256.0" x2="445.6" y2="2291.0" stroke="#111" stroke-width="4.6" />
<line x1="426.0" y1="2271.0" x2="465.0" y2="2271.0" stroke="#111" stroke-width="4.6" />
<line x1="465.0" y1="2218.5" x2="489.0" y2="2201.5" stroke="#111" stroke-width="3.4" />
<path d="M499,2194 L489.5,2210 L486.5,2202 L481,2197.6 Z" fill="#111"/>
</g>
<g id="pg">
<line x1="1888.9" y1="2742.0" x2="2328.3" y2="2742.0" stroke="#d2d2d2" stroke-width="2.4" />
<path d="M1932.4,2415.9 L1968.4,2415.9 L1968.4,2432.3 L2004.3,2432.3 L2004.3,2448.6 L2022.3,2448.6 L2022.3,2465.0 L2076.3,2465.0 L2076.3,2481.3 L2094.3,2481.3 L2094.3,2514.0 L2112.3,2514.0 L2112.3,2546.7 L2130.3,2546.7 L2130.3,2563.1 L2148.3,2563.1 L2148.3,2579.4 L2202.3,2579.4 L2202.3,2595.8 L2220.3,2595.8 L2220.3,2612.1 L2238.3,2612.1 L2238.3,2628.5 L2274.3,2628.5 L2274.3,2710.3 L2292.3,2710.3 L2292.3,2726.6 L2310.3,2726.6 L2310.3,2759.3 L2346.3,2759.3 L2346.3,2873.8 L2364.3,2873.8 L2364.3,2906.5 L2418.2,2906.5 L2418.2,2922.8 L2436.2,2922.8 L2436.2,2971.9 L2490.2,2971.9 L2490.2,3004.6 L2526.2,3004.6 L2526.2,3037.3 L2688.2,3037.3 L2688.2,3053.7 L2724.2,3053.7 L2724.2,3070.0" stroke="#a8dcf3" stroke-width="4.6" fill="none" stroke-linejoin="miter"/>
<path d="M2382.2,2841.1 L2400.2,2841.1 L2400.2,2873.8 L2418.2,2873.8 L2418.2,2890.1 L2436.2,2890.1 L2436.2,2906.5 L2454.2,2906.5 L2454.2,2922.8 L2472.2,2922.8 L2472.2,2939.2 L2490.2,2939.2 L2490.2,2971.9 L2526.2,2971.9 L2526.2,2988.3 L2544.2,2988.3 L2544.2,3037.3 L2778.1,3037.3 L2778.1,3053.7 L2832.1,3053.7 L2832.1,3070.0" stroke="#c98cc6" stroke-width="4.6" fill="none" />
<path d="M1932.4,2415.9 L1986.3,2415.9 L1986.3,2432.3 L2040.3,2432.3 L2040.3,2465.0 L2058.3,2465.0 L2058.3,2481.3 L2076.3,2481.3 L2076.3,2497.7 L2112.3,2497.7 L2112.3,2514.0 L2130.3,2514.0 L2130.3,2579.4 L2148.3,2579.4 L2148.3,2595.8 L2166.3,2595.8 L2166.3,2628.5 L2202.3,2628.5 L2202.3,2644.8 L2238.3,2644.8 L2238.3,2677.6 L2256.3,2677.6 L2256.3,2710.3 L2274.3,2710.3 L2274.3,2743.0 L2292.3,2743.0 L2292.3,2759.3 L2328.3,2759.3 L2328.3,2775.7 L2346.3,2775.7 L2346.3,2792.0 L2364.3,2792.0 L2364.3,2824.7 L2382.2,2824.7 L2382.2,2841.1 L2400.2,2841.1 L2400.2,2873.8 L2418.2,2873.8 L2418.2,2890.1 L2436.2,2890.1 L2436.2,2922.8 L2454.2,2922.8 L2454.2,2939.2 L2472.2,2939.2 L2472.2,2955.5 L2526.2,2955.5 L2526.2,2971.9 L2544.2,2971.9 L2544.2,3037.3 L2580.2,3037.3 L2580.2,3053.7 L2670.2,3053.7 L2670.2,3070.0" stroke="#000" stroke-width="4.6" fill="none" />
<path d="M1932.4,2415.9 L1986.3,2415.9 L1986.3,2432.3 L2058.3,2432.3 L2058.3,2448.6 L2076.3,2448.6 L2076.3,2465.0 L2166.3,2465.0 L2166.3,2481.3 L2184.3,2481.3 L2184.3,2514.0 L2202.3,2514.0 L2202.3,2530.4 L2220.3,2530.4 L2220.3,2579.4 L2274.3,2579.4 L2274.3,2644.8 L2292.3,2644.8 L2292.3,2677.6 L2310.3,2677.6 L2310.3,2726.6 L2328.3,2726.6 L2328.3,2775.7 L2346.3,2775.7 L2346.3,2792.0 L2364.3,2792.0 L2364.3,2808.4 L2382.2,2808.4 L2382.2,2841.1" stroke="#e8212b" stroke-width="4.6" fill="none" />
<path d="M1932.4,2415.9 L2004.3,2415.9 L2004.3,2448.6 L2040.3,2448.6 L2040.3,2465.0 L2058.3,2465.0 L2058.3,2497.7 L2076.3,2497.7 L2076.3,2530.4 L2130.3,2530.4 L2130.3,2546.7 L2166.3,2546.7 L2166.3,2579.4 L2202.3,2579.4 L2202.3,2661.2 L2238.3,2661.2 L2238.3,2693.9 L2256.3,2693.9 L2256.3,2726.6 L2292.3,2726.6 L2292.3,2743.0 L2310.3,2743.0 L2310.3,2775.7 L2328.3,2775.7 L2328.3,2824.7 L2364.3,2824.7 L2364.3,2841.1 L2382.2,2841.1 L2382.2,2857.4 L2400.2,2857.4 L2400.2,2922.8 L2418.2,2922.8 L2418.2,2939.2 L2436.2,2939.2 L2436.2,2955.5 L2454.2,2955.5 L2454.2,2988.3 L2472.2,2988.3 L2472.2,3004.6 L2598.2,3004.6 L2598.2,3021.0 L2616.2,3021.0 L2616.2,3037.3 L2832.1,3037.3 L2832.1,3070.0" stroke="#5b8fd1" stroke-width="4.6" fill="none" />
<line x1="1888.9" y1="2384.0" x2="1888.9" y2="3089.0" stroke="#1a1a1a" stroke-width="4" />
<line x1="1865.0" y1="3070.0" x2="2873.6" y2="3070.0" stroke="#1a1a1a" stroke-width="4" />
<line x1="1866.0" y1="2415.9" x2="1888.9" y2="2415.9" stroke="#1a1a1a" stroke-width="2.8" />
<text x="1854.0" y="2429.8" font-size="48.1" text-anchor="end" fill="#1a1a1a" font-weight="bold" textLength="85.0" lengthAdjust="spacingAndGlyphs"  stroke="#1a1a1a" stroke-width="0.9" stroke-linejoin="round">1.00</text>
<line x1="1866.0" y1="2578.7" x2="1888.9" y2="2578.7" stroke="#1a1a1a" stroke-width="2.8" />
<text x="1854.0" y="2595.7" font-size="48.1" text-anchor="end" fill="#1a1a1a" font-weight="bold" textLength="85.0" lengthAdjust="spacingAndGlyphs"  stroke="#1a1a1a" stroke-width="0.9" stroke-linejoin="round">0.75</text>
<line x1="1866.0" y1="2742.0" x2="1888.9" y2="2742.0" stroke="#1a1a1a" stroke-width="2.8" />
<text x="1854.0" y="2756.0" font-size="48.1" text-anchor="end" fill="#1a1a1a" font-weight="bold" textLength="85.0" lengthAdjust="spacingAndGlyphs"  stroke="#1a1a1a" stroke-width="0.9" stroke-linejoin="round">0.50</text>
<line x1="1866.0" y1="2905.8" x2="1888.9" y2="2905.8" stroke="#1a1a1a" stroke-width="2.8" />
<text x="1854.0" y="2923.5" font-size="48.1" text-anchor="end" fill="#1a1a1a" font-weight="bold" textLength="85.0" lengthAdjust="spacingAndGlyphs"  stroke="#1a1a1a" stroke-width="0.9" stroke-linejoin="round">0.25</text>
<text x="1854.0" y="3081.0" font-size="48.1" text-anchor="end" fill="#1a1a1a" font-weight="bold" textLength="85.0" lengthAdjust="spacingAndGlyphs"  stroke="#1a1a1a" stroke-width="0.9" stroke-linejoin="round">0.00</text>
<line x1="1931.4" y1="3070.0" x2="1931.4" y2="3088.0" stroke="#1a1a1a" stroke-width="2.8" />
<text x="1933.9" y="3131.4" font-size="48.1" text-anchor="middle" fill="#1a1a1a" font-weight="bold" textLength="23.0" lengthAdjust="spacingAndGlyphs"  stroke="#1a1a1a" stroke-width="0.9" stroke-linejoin="round">0</text>
<line x1="2113.1" y1="3070.0" x2="2113.1" y2="3088.0" stroke="#1a1a1a" stroke-width="2.8" />
<text x="2108.0" y="3131.4" font-size="48.1" text-anchor="middle" fill="#1a1a1a" font-weight="bold" textLength="48.0" lengthAdjust="spacingAndGlyphs"  stroke="#1a1a1a" stroke-width="0.9" stroke-linejoin="round">10</text>
<line x1="2290.9" y1="3070.0" x2="2290.9" y2="3088.0" stroke="#1a1a1a" stroke-width="2.8" />
<text x="2287.9" y="3131.4" font-size="48.1" text-anchor="middle" fill="#1a1a1a" font-weight="bold" textLength="48.0" lengthAdjust="spacingAndGlyphs"  stroke="#1a1a1a" stroke-width="0.9" stroke-linejoin="round">20</text>
<line x1="2473.6" y1="3070.0" x2="2473.6" y2="3088.0" stroke="#1a1a1a" stroke-width="2.8" />
<text x="2474.0" y="3131.4" font-size="48.1" text-anchor="middle" fill="#1a1a1a" font-weight="bold" textLength="48.0" lengthAdjust="spacingAndGlyphs"  stroke="#1a1a1a" stroke-width="0.9" stroke-linejoin="round">30</text>
<line x1="2651.4" y1="3070.0" x2="2651.4" y2="3088.0" stroke="#1a1a1a" stroke-width="2.8" />
<text x="2651.4" y="3131.4" font-size="48.1" text-anchor="middle" fill="#1a1a1a" font-weight="bold" textLength="48.0" lengthAdjust="spacingAndGlyphs"  stroke="#1a1a1a" stroke-width="0.9" stroke-linejoin="round">40</text>
<line x1="2828.7" y1="3070.0" x2="2828.7" y2="3088.0" stroke="#1a1a1a" stroke-width="2.8" />
<text x="2826.0" y="3131.4" font-size="48.1" text-anchor="middle" fill="#1a1a1a" font-weight="bold" textLength="48.0" lengthAdjust="spacingAndGlyphs"  stroke="#1a1a1a" stroke-width="0.9" stroke-linejoin="round">50</text>
<text x="1597.2" y="3128.6" font-size="46.0" text-anchor="start" fill="#1a1a1a" font-weight="bold" textLength="239.0" lengthAdjust="spacingAndGlyphs" >Generation</text>
<text x="1692.8" y="2708.0" font-size="44.9" text-anchor="middle" fill="#1a1a1a" font-weight="bold" textLength="557.0" lengthAdjust="spacingAndGlyphs" transform="rotate(-90 1692.8 2708.0)" >Survival probability (RLS)</text>
<text x="1922.4" y="2722.0" font-size="43.9" text-anchor="start" fill="#1a1a1a" textLength="213.0" lengthAdjust="spacingAndGlyphs" >Mean RLS</text>
<line x1="1936.4" y1="2795.9" x2="1987.3" y2="2795.9" stroke="#5b8fd1" stroke-width="6.4" />
<text x="2008.8" y="2809.4" font-size="40.8" text-anchor="start" fill="#1a1a1a" textLength="76.5" lengthAdjust="spacingAndGlyphs" >20.5</text>
<line x1="1936.4" y1="2859.3" x2="1987.3" y2="2859.3" stroke="#000" stroke-width="6.4" />
<text x="2008.8" y="2874.3" font-size="40.8" text-anchor="start" fill="#1a1a1a" textLength="76.5" lengthAdjust="spacingAndGlyphs" >19.5</text>
<line x1="1936.4" y1="2929.2" x2="1987.3" y2="2929.2" stroke="#e8212b" stroke-width="6.4" />
<text x="2010.8" y="2944.2" font-size="40.8" text-anchor="start" fill="#1a1a1a" textLength="76.5" lengthAdjust="spacingAndGlyphs" >22.0</text>
<line x1="1936.4" y1="3000.6" x2="1987.3" y2="3000.6" stroke="#a8dcf3" stroke-width="6.4" />
<text x="2014.7" y="3014.1" font-size="40.8" text-anchor="start" fill="#1a1a1a" textLength="76.5" lengthAdjust="spacingAndGlyphs" >22.0</text>
<line x1="2108.6" y1="2784.4" x2="2108.6" y2="3013.0" stroke="#1a1a1a" stroke-width="1.6" />
<text x="2115.6" y="2901.8" font-size="32.4" text-anchor="start" fill="#1a1a1a" textLength="34.0" lengthAdjust="spacingAndGlyphs" >ns</text>
<text x="2334.9" y="2136.0" font-size="43.9" text-anchor="start" fill="#1a1a1a" textLength="202.5" lengthAdjust="spacingAndGlyphs" >T=Taurine</text>
<line x1="2336.0" y1="2185.4" x2="2387.5" y2="2185.4" stroke="#5b8fd1" stroke-width="7" />
<text x="2401.5" y="2200.3" font-size="47.0" text-anchor="start" fill="#1a1a1a" font-weight="bold" textLength="128.0" lengthAdjust="spacingAndGlyphs" >T 0<tspan font-family="Liberation Serif, serif" font-weight="normal">µ</tspan>M</text>
<text x="2546.0" y="2200.3" font-size="44.9" text-anchor="start" fill="#1a1a1a" textLength="132.5" lengthAdjust="spacingAndGlyphs" >(n=40)</text>
<line x1="2336.0" y1="2250.4" x2="2387.5" y2="2250.4" stroke="#000" stroke-width="7" />
<text x="2401.5" y="2265.3" font-size="47.0" text-anchor="start" fill="#1a1a1a" font-weight="bold" textLength="178.0" lengthAdjust="spacingAndGlyphs" >T 300<tspan font-family="Liberation Serif, serif" font-weight="normal">µ</tspan>M</text>
<text x="2596.0" y="2265.3" font-size="44.9" text-anchor="start" fill="#1a1a1a" textLength="132.5" lengthAdjust="spacingAndGlyphs" >(n=40)</text>
<line x1="2336.0" y1="2319.9" x2="2387.5" y2="2319.9" stroke="#e8212b" stroke-width="7" />
<text x="2401.5" y="2334.9" font-size="47.0" text-anchor="start" fill="#1a1a1a" font-weight="bold" textLength="217.0" lengthAdjust="spacingAndGlyphs" >T 1,000<tspan font-family="Liberation Serif, serif" font-weight="normal">µ</tspan>M</text>
<text x="2635.0" y="2334.9" font-size="44.9" text-anchor="start" fill="#1a1a1a" textLength="132.5" lengthAdjust="spacingAndGlyphs" >(n=40)</text>
<line x1="2336.0" y1="2391.0" x2="2387.5" y2="2391.0" stroke="#a8dcf3" stroke-width="7" />
<text x="2401.5" y="2405.5" font-size="47.0" text-anchor="start" fill="#1a1a1a" font-weight="bold" textLength="265.5" lengthAdjust="spacingAndGlyphs" >T 100,000<tspan font-family="Liberation Serif, serif" font-weight="normal">µ</tspan>M</text>
<text x="2683.5" y="2405.5" font-size="44.9" text-anchor="start" fill="#1a1a1a" textLength="132.5" lengthAdjust="spacingAndGlyphs" >(n=40)</text>
<text x="1576.5" y="2123.3" font-size="86" text-anchor="start" fill="#1a1a1a" font-weight="bold" textLength="52.8" lengthAdjust="spacingAndGlyphs"  stroke="#1a1a1a" stroke-width="3.2" stroke-linejoin="miter">G</text>
<text x="1647.2" y="2265.3" font-size="44.9" text-anchor="start" fill="#000" font-weight="bold" font-style="italic" textLength="276.5" lengthAdjust="spacingAndGlyphs" >S. cerevisiae</text>
</g>
<g id="ph">
<path d="M3475.70,2491.32 L3428.60,2424.55" stroke="#f04b37" stroke-width="3.7" fill="none" />
<path d="M3498.94,2454.95 L3475.42,2398.67" stroke="#f04b37" stroke-width="3.7" fill="none" />
<path d="M3533.96,2423.90 L3526.73,2383.55" stroke="#f04b37" stroke-width="3.7" fill="none" />
<path d="M3579.24,2400.89 L3580.10,2379.91" stroke="#f04b37" stroke-width="3.7" fill="none" />
<path d="M3627.60,2408.22 L3632.99,2387.93" stroke="#f04b37" stroke-width="3.7" fill="none" />
<path d="M3654.22,2462.53 L3682.89,2407.22" stroke="#6ab844" stroke-width="3.7" fill="none" />
<path d="M3713.74,2453.21 L3727.41,2436.87" stroke="#6ab844" stroke-width="3.7" fill="none" />
<path d="M3747.57,2488.45 L3764.45,2475.47" stroke="#6ab844" stroke-width="3.7" fill="none" />
<path d="M3773.22,2530.06 L3792.24,2521.18" stroke="#6ab844" stroke-width="3.7" fill="none" />
<path d="M3788.97,2576.38 L3809.47,2571.82" stroke="#6ab844" stroke-width="3.7" fill="none" />
<path d="M3673.96,2749.24 L3727.41,2813.13" stroke="#2d87c9" stroke-width="3.7" fill="none" />
<path d="M3654.08,2787.20 L3682.89,2842.78" stroke="#2d87c9" stroke-width="3.7" fill="none" />
<path d="M3627.52,2841.49 L3632.99,2862.07" stroke="#2d87c9" stroke-width="3.7" fill="none" />
<path d="M3579.22,2848.81 L3580.10,2870.09" stroke="#2d87c9" stroke-width="3.7" fill="none" />
<path d="M3530.49,2845.49 L3526.73,2866.45" stroke="#2d87c9" stroke-width="3.7" fill="none" />
<path d="M3483.63,2831.68 L3475.42,2851.33" stroke="#2d87c9" stroke-width="3.7" fill="none" />
<path d="M3476.04,2758.19 L3428.60,2825.45" stroke="#c9248d" stroke-width="3.7" fill="none" />
<path d="M3434.09,2748.58 L3388.51,2790.03" stroke="#c9248d" stroke-width="3.7" fill="none" />
<path d="M3375.28,2736.34 L3357.05,2746.76" stroke="#c9248d" stroke-width="3.7" fill="none" />
<path d="M3355.78,2691.48 L3335.72,2697.70" stroke="#c9248d" stroke-width="3.7" fill="none" />
<path d="M3346.46,2643.46 L3319.35,2645.70" stroke="#c9248d" stroke-width="3.7" fill="none" />
<path d="M3347.78,2594.56 L3326.97,2591.71" stroke="#c9248d" stroke-width="3.7" fill="none" />
<path d="M3579.24,2400.89 A224.30,224.30 0 0 1 3627.60,2408.22 M3600.62,2423.01 L3603.62,2403.23 M3533.96,2423.90 A204.30,204.30 0 0 1 3600.62,2423.01 M3567.52,2440.72 L3567.25,2420.72 M3498.94,2454.95 A184.30,184.30 0 0 1 3567.52,2440.72 M3536.75,2464.81 L3532.55,2444.55 M3475.70,2491.32 A163.60,163.60 0 0 1 3536.75,2464.81 M3513.06,2493.82 L3504.86,2474.93 M3713.74,2453.21 A224.00,224.00 0 0 1 3747.57,2488.45 M3716.76,2484.17 L3731.62,2469.90 M3773.22,2530.06 A224.30,224.30 0 0 1 3788.97,2576.38 M3762.57,2559.52 L3782.36,2552.79 M3716.76,2484.17 A203.40,203.40 0 0 1 3762.57,2559.52 M3726.37,2529.93 L3743.80,2519.33 M3654.22,2462.53 A183.00,183.00 0 0 1 3726.37,2529.93 M3667.62,2520.50 L3694.92,2491.27 M3513.06,2493.82 A143.00,143.00 0 0 1 3667.62,2520.50 M3580.27,2565.48 L3594.32,2484.08 M3793.70,2625.00 A223.70,223.70 0 0 1 3788.38,2673.49 M3649.92,2633.77 L3792.37,2649.39 M3627.52,2841.49 A224.00,224.00 0 0 1 3579.22,2848.81 M3600.50,2826.20 L3603.57,2846.47 M3530.49,2845.49 A224.00,224.00 0 0 1 3483.63,2831.68 M3512.48,2820.20 L3506.68,2839.86 M3600.50,2826.20 A203.50,203.50 0 0 1 3512.48,2820.20 M3557.57,2807.28 L3556.16,2828.03 M3654.08,2787.20 A182.70,182.70 0 0 1 3557.57,2807.28 M3602.99,2783.61 L3607.21,2803.87 M3673.96,2749.24 A162.00,162.00 0 0 1 3602.99,2783.61 M3631.62,2752.27 L3640.60,2770.81 M3375.28,2736.34 A224.30,224.30 0 0 1 3355.78,2691.48 M3382.92,2706.34 L3364.30,2714.44 M3346.46,2643.46 A224.30,224.30 0 0 1 3347.78,2594.56 M3366.07,2619.52 L3345.78,2618.97 M3382.92,2706.34 A204.00,204.00 0 0 1 3366.07,2619.52 M3389.66,2659.99 L3369.73,2663.86 M3434.09,2748.58 A183.70,183.70 0 0 1 3389.66,2659.99 M3424.29,2698.06 L3405.79,2707.34 M3476.04,2758.19 A163.00,163.00 0 0 1 3424.29,2698.06 M3462.82,2717.23 L3446.45,2731.32 M3631.62,2752.27 A141.40,141.40 0 0 1 3462.82,2717.23 M3545.47,2743.18 L3541.27,2763.45 M3665.68,2698.58 A120.70,120.70 0 0 1 3545.47,2743.18 M3604.93,2719.13 L3611.99,2738.16 M3660.96,2667.49 A100.40,100.40 0 0 1 3604.93,2719.13 M3624.48,2684.13 L3638.03,2698.83 M3649.92,2633.77 A80.40,80.40 0 0 1 3624.48,2684.13 M3623.91,2652.23 L3641.76,2661.25 M3580.27,2565.48 A60.40,60.40 0 0 1 3623.91,2652.23 M3606.90,2606.44 L3623.96,2597.86 M3534.38,2604.10 A41.30,41.30 0 0 1 3606.90,2606.44 M3570.00,2583.70 L3570.00,2604.50" stroke="#000" stroke-width="3.7" fill="none" stroke-linecap="square"/>
<path d="M3535.93,2605.01 L3358.43,2500.87 M3791.90,2625.00 L3815.30,2625.00 M3786.62,2673.10 L3809.47,2678.18 M3659.33,2666.73 L3792.24,2728.82 M3664.25,2697.48 L3764.45,2774.53" stroke="#000" stroke-width="3.7" fill="none" />
<text x="3349.9" y="2487.7" font-size="30.3" fill="#68a83a" text-anchor="end" xml:space="preserve" transform="rotate(30.40 3349.9 2487.7)" dy="10.6">Q04792 <tspan font-style="italic">S. cerevisiae</tspan> GAD1</text>
<text x="3424.2" y="2404.4" font-size="24.4" fill="#f0983c" text-anchor="end" xml:space="preserve" transform="rotate(54.80 3424.2 2404.4)" dy="8.5">GADL1 <tspan font-style="italic">X. tropicalis</tspan> gadl1</text>
<text x="3468.4" y="2376.7" font-size="24.4" fill="#000" text-anchor="end" xml:space="preserve" transform="rotate(67.32 3468.4 2376.7)" dy="8.5">F1P1L4 <tspan font-style="italic">G. gallus</tspan> GADL1</text>
<text x="3527.7" y="2369.1" font-size="30.3" fill="#b04a80" text-anchor="end" xml:space="preserve" transform="rotate(79.84 3527.7 2369.1)" dy="10.6">Q80WP8 <tspan font-style="italic">M. musculus</tspan> Gadl1</text>
<text x="3583.5" y="2357.0" font-size="24.4" fill="#6a40b0" text-anchor="start" xml:space="preserve" transform="rotate(-87.64 3583.5 2357.0)" dy="8.5">Q6ZQY3 <tspan font-style="italic">H. sapiens</tspan> GADL1</text>
<text x="3637.5" y="2364.3" font-size="24.4" fill="#e28c30" text-anchor="start" xml:space="preserve" transform="rotate(-75.12 3637.5 2364.3)" dy="8.5">F6Q185 <tspan font-style="italic">M. mulatta</tspan> GADL1</text>
<text x="3691.2" y="2389.0" font-size="24.4" fill="#a31e2a" text-anchor="start" xml:space="preserve" transform="rotate(-62.60 3691.2 2389.0)" dy="8.5">Q5U3I6 <tspan font-style="italic">D. rerio</tspan> csad</text>
<text x="3738.0" y="2422.3" font-size="24.4" fill="#6a40b0" text-anchor="start" xml:space="preserve" transform="rotate(-50.08 3738.0 2422.3)" dy="8.5">Q9Y600 <tspan font-style="italic">H. sapiens</tspan> CSAD</text>
<text x="3774.5" y="2462.3" font-size="24.4" fill="#e28c30" text-anchor="start" xml:space="preserve" transform="rotate(-37.56 3774.5 2462.3)" dy="8.5">F6UDL3 <tspan font-style="italic">M. mulatta</tspan> CSAD</text>
<text x="3802.0" y="2511.4" font-size="30.3" fill="#b04a80" text-anchor="start" xml:space="preserve" transform="rotate(-25.04 3802.0 2511.4)" dy="10.6">Q9DBE0 <tspan font-style="italic">M. musculus</tspan> Csad</text>
<text x="3819.3" y="2564.1" font-size="24.4" fill="#cc7fa5" text-anchor="start" xml:space="preserve" transform="rotate(-12.52 3819.3 2564.1)" dy="8.5">Q64611 <tspan font-style="italic">R. norvegicus</tspan> Csad</text>
<text x="3825.3" y="2623.7" font-size="24.4" fill="#2e86c8" text-anchor="start" xml:space="preserve" transform="rotate(0.00 3825.3 2623.7)" dy="8.5">P20228 <tspan font-style="italic">D. melanogaster</tspan> Gad1</text>
<text x="3820.6" y="2678.6" font-size="30.3" fill="#6cbf3c" text-anchor="start" xml:space="preserve" transform="rotate(12.52 3820.6 2678.6)" dy="10.6">G5EDB7 <tspan font-style="italic">C. elegans</tspan> unc-25</text>
<text x="3802.5" y="2732.8" font-size="24.4" fill="#a31e2a" text-anchor="start" xml:space="preserve" transform="rotate(25.04 3802.5 2732.8)" dy="8.5">B0V1P2 <tspan font-style="italic">D. rerio</tspan> gad3</text>
<text x="3769.6" y="2781.6" font-size="24.4" fill="#f0983c" text-anchor="start" xml:space="preserve" transform="rotate(37.56 3769.6 2781.6)" dy="8.5">B1H2Y8 <tspan font-style="italic">X. tropicalis</tspan> gad1.2</text>
<text x="3732.7" y="2821.1" font-size="24.4" fill="#a31e2a" text-anchor="start" xml:space="preserve" transform="rotate(50.08 3732.7 2821.1)" dy="8.5">F1R9E8 <tspan font-style="italic">D. rerio</tspan> gad2</text>
<text x="3689.1" y="2850.8" font-size="24.4" fill="#000" text-anchor="start" xml:space="preserve" transform="rotate(62.60 3689.1 2850.8)" dy="8.5">A0A1D5PLC8 <tspan font-style="italic">G. gallus</tspan> GAD2</text>
<text x="3641.1" y="2877.0" font-size="24.4" fill="#6a40b0" text-anchor="start" xml:space="preserve" transform="rotate(75.12 3641.1 2877.0)" dy="8.5">Q05329 <tspan font-style="italic">H. sapiens</tspan> GAD2</text>
<text x="3581.7" y="2880.0" font-size="24.4" fill="#e28c30" text-anchor="start" xml:space="preserve" transform="rotate(87.64 3581.7 2880.0)" dy="8.5">H9FSH7 <tspan font-style="italic">M. mulatta</tspan> EGK 19532</text>
<text x="3524.8" y="2877.3" font-size="24.4" fill="#cc7fa5" text-anchor="end" xml:space="preserve" transform="rotate(280.16 3524.8 2877.3)" dy="8.5">Q05683 <tspan font-style="italic">R. norvegicus</tspan> Gad2</text>
<text x="3469.4" y="2865.6" font-size="30.3" fill="#b04a80" text-anchor="end" xml:space="preserve" transform="rotate(292.68 3469.4 2865.6)" dy="10.6">P48320 <tspan font-style="italic">M. musculus</tspan> Gad2</text>
<text x="3417.1" y="2841.8" font-size="24.4" fill="#6e1416" text-anchor="end" xml:space="preserve" transform="rotate(305.20 3417.1 2841.8)" dy="8.5">Q7ZUS3 <tspan font-style="italic">D. rerio</tspan> gad1b</text>
<text x="3378.2" y="2799.4" font-size="24.4" fill="#000" text-anchor="end" xml:space="preserve" transform="rotate(317.72 3378.2 2799.4)" dy="8.5">Q9YI58 <tspan font-style="italic">G. gallus</tspan> GAD67</text>
<text x="3344.9" y="2753.7" font-size="24.4" fill="#6a40b0" text-anchor="end" xml:space="preserve" transform="rotate(330.24 3344.9 2753.7)" dy="8.5">Q99259 <tspan font-style="italic">H. sapiens</tspan> GAD1</text>
<text x="3323.9" y="2698.8" font-size="24.4" fill="#e28c30" text-anchor="end" xml:space="preserve" transform="rotate(342.76 3323.9 2698.8)" dy="8.5">G7N8A4 <tspan font-style="italic">M. mulatta</tspan> GAD1</text>
<text x="3311.6" y="2646.3" font-size="30.3" fill="#b04a80" text-anchor="end" xml:space="preserve" transform="rotate(355.28 3311.6 2646.3)" dy="10.6">P48318 <tspan font-style="italic">M. musculus</tspan> Gad1</text>
<text x="3309.9" y="2583.5" font-size="24.4" fill="#cc7fa5" text-anchor="end" xml:space="preserve" transform="rotate(7.80 3309.9 2583.5)" dy="8.5">P18088 <tspan font-style="italic">R. norvegicus</tspan> Gad1</text>
<text x="2898.9" y="2118.0" font-size="86" text-anchor="start" fill="#1a1a1a" font-weight="bold" textLength="57.4" lengthAdjust="spacingAndGlyphs"  stroke="#1a1a1a" stroke-width="3.2" stroke-linejoin="miter">H</text>
</g>
<g id="icons">
<g transform="translate(80,45) scale(0.11749)"><path d="M640.0,745.0 C677.3,705.0 678.7,699.3 700.0,650.0 C721.3,600.7 698.7,608.0 720.0,560.0 C741.3,512.0 737.3,518.0 780.0,470.0 C822.7,422.0 821.3,418.7 880.0,380.0 C938.7,341.3 930.7,345.0 1000.0,325.0 C1069.3,305.0 1060.0,306.3 1140.0,305.0 C1220.0,303.7 1225.3,310.7 1300.0,320.0 C1374.7,329.3 1377.3,337.3 1420.0,340.0 C1462.7,342.7 1444.0,340.7 1460.0,330.0 C1476.0,319.3 1479.5,321.3 1480.0,300.0 C1480.5,278.7 1467.9,279.3 1462.0,250.0 C1456.1,220.7 1453.2,218.0 1458.0,190.0 C1462.8,162.0 1458.1,161.5 1480.0,145.0 C1501.9,128.5 1508.0,128.0 1540.0,128.0 C1572.0,128.0 1570.7,128.5 1600.0,145.0 C1629.3,161.5 1626.0,170.0 1650.0,190.0 C1674.0,210.0 1671.3,216.0 1690.0,220.0 C1708.7,224.0 1705.3,223.7 1720.0,205.0 C1734.7,186.3 1730.3,178.0 1745.0,150.0 C1759.7,122.0 1760.3,110.7 1775.0,100.0 C1789.7,89.3 1788.0,88.7 1800.0,110.0 C1812.0,131.3 1816.0,145.3 1820.0,180.0 C1824.0,214.7 1820.3,213.3 1815.0,240.0 C1809.7,266.7 1782.7,258.7 1800.0,280.0 C1817.3,301.3 1837.3,296.0 1880.0,320.0 C1922.7,344.0 1922.7,340.7 1960.0,370.0 C1997.3,399.3 1990.7,400.7 2020.0,430.0 C2049.3,459.3 2050.0,456.0 2070.0,480.0 C2090.0,504.0 2091.0,502.7 2095.0,520.0 C2099.0,537.3 2097.0,534.3 2085.0,545.0 C2073.0,555.7 2067.3,548.0 2050.0,560.0 C2032.7,572.0 2044.0,576.7 2020.0,590.0 C1996.0,603.3 2002.7,600.7 1960.0,610.0 C1917.3,619.3 1905.3,618.3 1860.0,625.0 C1814.7,631.7 1818.0,624.3 1790.0,635.0 C1762.0,645.7 1771.0,637.0 1755.0,665.0 C1739.0,693.0 1742.0,704.0 1730.0,740.0 C1718.0,776.0 1718.0,768.0 1710.0,800.0 C1702.0,832.0 1698.7,833.3 1700.0,860.0 C1701.3,886.7 1701.7,882.7 1715.0,900.0 C1728.3,917.3 1734.0,913.0 1750.0,925.0 C1766.0,937.0 1769.7,937.0 1775.0,945.0 C1780.3,953.0 1779.3,955.0 1770.0,955.0 C1760.7,955.0 1752.0,943.7 1740.0,945.0 C1728.0,946.3 1727.7,952.0 1725.0,960.0 C1722.3,968.0 1735.3,973.7 1730.0,975.0 C1724.7,976.3 1715.7,971.7 1705.0,965.0 C1694.3,958.3 1699.3,950.0 1690.0,950.0 C1680.7,950.0 1679.3,967.7 1670.0,965.0 C1660.7,962.3 1663.0,957.3 1655.0,940.0 C1647.0,922.7 1648.0,921.3 1640.0,900.0 C1632.0,878.7 1638.3,873.3 1625.0,860.0 C1611.7,846.7 1611.3,850.0 1590.0,850.0 C1568.7,850.0 1559.7,849.3 1545.0,860.0 C1530.3,870.7 1535.0,871.3 1535.0,890.0 C1535.0,908.7 1534.3,914.0 1545.0,930.0 C1555.7,946.0 1557.7,942.0 1575.0,950.0 C1592.3,958.0 1603.3,954.7 1610.0,960.0 C1616.7,965.3 1609.3,967.3 1600.0,970.0 C1590.7,972.7 1572.3,964.7 1575.0,970.0 C1577.7,975.3 1603.3,983.3 1610.0,990.0 C1616.7,996.7 1613.3,996.3 1600.0,995.0 C1586.7,993.7 1568.0,981.0 1560.0,985.0 C1552.0,989.0 1571.3,1003.3 1570.0,1010.0 C1568.7,1016.7 1565.7,1015.3 1555.0,1010.0 C1544.3,1004.7 1544.7,992.7 1530.0,990.0 C1515.3,987.3 1510.7,1000.0 1500.0,1000.0 C1489.3,1000.0 1495.3,1003.3 1490.0,990.0 C1484.7,976.7 1493.3,971.3 1480.0,950.0 C1466.7,928.7 1466.7,927.3 1440.0,910.0 C1413.3,892.7 1422.7,895.7 1380.0,885.0 C1337.3,874.3 1333.3,874.5 1280.0,870.0 C1226.7,865.5 1228.0,865.3 1180.0,868.0 C1132.0,870.7 1134.7,870.1 1100.0,880.0 C1065.3,889.9 1052.7,895.7 1050.0,905.0 C1047.3,914.3 1050.0,911.0 1090.0,915.0 C1130.0,919.0 1166.7,916.0 1200.0,920.0 C1233.3,924.0 1228.3,925.2 1215.0,930.0 C1201.7,934.8 1188.7,936.7 1150.0,938.0 C1111.3,939.3 1094.0,933.1 1070.0,935.0 C1046.0,936.9 1046.7,938.3 1060.0,945.0 C1073.3,951.7 1061.3,950.7 1120.0,960.0 C1178.7,969.3 1234.7,971.5 1280.0,980.0 C1325.3,988.5 1316.7,988.0 1290.0,992.0 C1263.3,996.0 1212.0,989.7 1180.0,995.0 C1148.0,1000.3 1183.3,1010.7 1170.0,1012.0 C1156.7,1013.3 1162.0,1007.2 1130.0,1000.0 C1098.0,992.8 1090.0,994.3 1050.0,985.0 C1010.0,975.7 1010.7,978.3 980.0,965.0 C949.3,951.7 952.3,952.3 935.0,935.0 C917.7,917.7 935.0,912.0 915.0,900.0 C895.0,888.0 896.0,895.3 860.0,890.0 C824.0,884.7 822.7,890.7 780.0,880.0 C737.3,869.3 737.3,868.7 700.0,850.0 C662.7,831.3 677.3,810.0 640.0,810.0 C602.7,810.0 610.7,827.3 560.0,850.0 C509.3,872.7 519.3,871.0 450.0,895.0 C380.7,919.0 377.3,917.3 300.0,940.0 C222.7,962.7 210.7,958.7 160.0,980.0 C109.3,1001.3 124.7,998.7 110.0,1020.0 C95.3,1041.3 94.3,1040.0 105.0,1060.0 C115.7,1080.0 111.3,1083.0 150.0,1095.0 C188.7,1107.0 170.0,1106.3 250.0,1105.0 C330.0,1103.7 330.0,1098.0 450.0,1090.0 C570.0,1082.0 582.7,1075.0 700.0,1075.0 C817.3,1075.0 890.0,1085.5 890.0,1090.0 C890.0,1094.5 817.3,1085.3 700.0,1092.0 C582.7,1098.7 570.0,1103.5 450.0,1115.0 C330.0,1126.5 335.3,1131.0 250.0,1135.0 C164.7,1139.0 176.7,1139.3 130.0,1130.0 C83.3,1120.7 93.7,1121.3 75.0,1100.0 C56.3,1078.7 60.0,1074.0 60.0,1050.0 C60.0,1026.0 56.3,1032.7 75.0,1010.0 C93.7,987.3 83.3,990.3 130.0,965.0 C176.7,939.7 178.0,940.3 250.0,915.0 C322.0,889.7 317.3,900.7 400.0,870.0 C482.7,839.3 496.0,833.3 560.0,800.0 C624.0,766.7 602.7,785.0 640.0,745.0Z" fill="#0a0a0a"/><ellipse cx="1835" cy="403" rx="22" ry="17" fill="#fff"/></g>
<g transform="translate(81.5,1035.5) scale(0.11749)"><path d="M640.0,745.0 C677.3,705.0 678.7,699.3 700.0,650.0 C721.3,600.7 698.7,608.0 720.0,560.0 C741.3,512.0 737.3,518.0 780.0,470.0 C822.7,422.0 821.3,418.7 880.0,380.0 C938.7,341.3 930.7,345.0 1000.0,325.0 C1069.3,305.0 1060.0,306.3 1140.0,305.0 C1220.0,303.7 1225.3,310.7 1300.0,320.0 C1374.7,329.3 1377.3,337.3 1420.0,340.0 C1462.7,342.7 1444.0,340.7 1460.0,330.0 C1476.0,319.3 1479.5,321.3 1480.0,300.0 C1480.5,278.7 1467.9,279.3 1462.0,250.0 C1456.1,220.7 1453.2,218.0 1458.0,190.0 C1462.8,162.0 1458.1,161.5 1480.0,145.0 C1501.9,128.5 1508.0,128.0 1540.0,128.0 C1572.0,128.0 1570.7,128.5 1600.0,145.0 C1629.3,161.5 1626.0,170.0 1650.0,190.0 C1674.0,210.0 1671.3,216.0 1690.0,220.0 C1708.7,224.0 1705.3,223.7 1720.0,205.0 C1734.7,186.3 1730.3,178.0 1745.0,150.0 C1759.7,122.0 1760.3,110.7 1775.0,100.0 C1789.7,89.3 1788.0,88.7 1800.0,110.0 C1812.0,131.3 1816.0,145.3 1820.0,180.0 C1824.0,214.7 1820.3,213.3 1815.0,240.0 C1809.7,266.7 1782.7,258.7 1800.0,280.0 C1817.3,301.3 1837.3,296.0 1880.0,320.0 C1922.7,344.0 1922.7,340.7 1960.0,370.0 C1997.3,399.3 1990.7,400.7 2020.0,430.0 C2049.3,459.3 2050.0,456.0 2070.0,480.0 C2090.0,504.0 2091.0,502.7 2095.0,520.0 C2099.0,537.3 2097.0,534.3 2085.0,545.0 C2073.0,555.7 2067.3,548.0 2050.0,560.0 C2032.7,572.0 2044.0,576.7 2020.0,590.0 C1996.0,603.3 2002.7,600.7 1960.0,610.0 C1917.3,619.3 1905.3,618.3 1860.0,625.0 C1814.7,631.7 1818.0,624.3 1790.0,635.0 C1762.0,645.7 1771.0,637.0 1755.0,665.0 C1739.0,693.0 1742.0,704.0 1730.0,740.0 C1718.0,776.0 1718.0,768.0 1710.0,800.0 C1702.0,832.0 1698.7,833.3 1700.0,860.0 C1701.3,886.7 1701.7,882.7 1715.0,900.0 C1728.3,917.3 1734.0,913.0 1750.0,925.0 C1766.0,937.0 1769.7,937.0 1775.0,945.0 C1780.3,953.0 1779.3,955.0 1770.0,955.0 C1760.7,955.0 1752.0,943.7 1740.0,945.0 C1728.0,946.3 1727.7,952.0 1725.0,960.0 C1722.3,968.0 1735.3,973.7 1730.0,975.0 C1724.7,976.3 1715.7,971.7 1705.0,965.0 C1694.3,958.3 1699.3,950.0 1690.0,950.0 C1680.7,950.0 1679.3,967.7 1670.0,965.0 C1660.7,962.3 1663.0,957.3 1655.0,940.0 C1647.0,922.7 1648.0,921.3 1640.0,900.0 C1632.0,878.7 1638.3,873.3 1625.0,860.0 C1611.7,846.7 1611.3,850.0 1590.0,850.0 C1568.7,850.0 1559.7,849.3 1545.0,860.0 C1530.3,870.7 1535.0,871.3 1535.0,890.0 C1535.0,908.7 1534.3,914.0 1545.0,930.0 C1555.7,946.0 1557.7,942.0 1575.0,950.0 C1592.3,958.0 1603.3,954.7 1610.0,960.0 C1616.7,965.3 1609.3,967.3 1600.0,970.0 C1590.7,972.7 1572.3,964.7 1575.0,970.0 C1577.7,975.3 1603.3,983.3 1610.0,990.0 C1616.7,996.7 1613.3,996.3 1600.0,995.0 C1586.7,993.7 1568.0,981.0 1560.0,985.0 C1552.0,989.0 1571.3,1003.3 1570.0,1010.0 C1568.7,1016.7 1565.7,1015.3 1555.0,1010.0 C1544.3,1004.7 1544.7,992.7 1530.0,990.0 C1515.3,987.3 1510.7,1000.0 1500.0,1000.0 C1489.3,1000.0 1495.3,1003.3 1490.0,990.0 C1484.7,976.7 1493.3,971.3 1480.0,950.0 C1466.7,928.7 1466.7,927.3 1440.0,910.0 C1413.3,892.7 1422.7,895.7 1380.0,885.0 C1337.3,874.3 1333.3,874.5 1280.0,870.0 C1226.7,865.5 1228.0,865.3 1180.0,868.0 C1132.0,870.7 1134.7,870.1 1100.0,880.0 C1065.3,889.9 1052.7,895.7 1050.0,905.0 C1047.3,914.3 1050.0,911.0 1090.0,915.0 C1130.0,919.0 1166.7,916.0 1200.0,920.0 C1233.3,924.0 1228.3,925.2 1215.0,930.0 C1201.7,934.8 1188.7,936.7 1150.0,938.0 C1111.3,939.3 1094.0,933.1 1070.0,935.0 C1046.0,936.9 1046.7,938.3 1060.0,945.0 C1073.3,951.7 1061.3,950.7 1120.0,960.0 C1178.7,969.3 1234.7,971.5 1280.0,980.0 C1325.3,988.5 1316.7,988.0 1290.0,992.0 C1263.3,996.0 1212.0,989.7 1180.0,995.0 C1148.0,1000.3 1183.3,1010.7 1170.0,1012.0 C1156.7,1013.3 1162.0,1007.2 1130.0,1000.0 C1098.0,992.8 1090.0,994.3 1050.0,985.0 C1010.0,975.7 1010.7,978.3 980.0,965.0 C949.3,951.7 952.3,952.3 935.0,935.0 C917.7,917.7 935.0,912.0 915.0,900.0 C895.0,888.0 896.0,895.3 860.0,890.0 C824.0,884.7 822.7,890.7 780.0,880.0 C737.3,869.3 737.3,868.7 700.0,850.0 C662.7,831.3 677.3,810.0 640.0,810.0 C602.7,810.0 610.7,827.3 560.0,850.0 C509.3,872.7 519.3,871.0 450.0,895.0 C380.7,919.0 377.3,917.3 300.0,940.0 C222.7,962.7 210.7,958.7 160.0,980.0 C109.3,1001.3 124.7,998.7 110.0,1020.0 C95.3,1041.3 94.3,1040.0 105.0,1060.0 C115.7,1080.0 111.3,1083.0 150.0,1095.0 C188.7,1107.0 170.0,1106.3 250.0,1105.0 C330.0,1103.7 330.0,1098.0 450.0,1090.0 C570.0,1082.0 582.7,1075.0 700.0,1075.0 C817.3,1075.0 890.0,1085.5 890.0,1090.0 C890.0,1094.5 817.3,1085.3 700.0,1092.0 C582.7,1098.7 570.0,1103.5 450.0,1115.0 C330.0,1126.5 335.3,1131.0 250.0,1135.0 C164.7,1139.0 176.7,1139.3 130.0,1130.0 C83.3,1120.7 93.7,1121.3 75.0,1100.0 C56.3,1078.7 60.0,1074.0 60.0,1050.0 C60.0,1026.0 56.3,1032.7 75.0,1010.0 C93.7,987.3 83.3,990.3 130.0,965.0 C176.7,939.7 178.0,940.3 250.0,915.0 C322.0,889.7 317.3,900.7 400.0,870.0 C482.7,839.3 496.0,833.3 560.0,800.0 C624.0,766.7 602.7,785.0 640.0,745.0Z" fill="#0a0a0a"/><ellipse cx="1835" cy="403" rx="22" ry="17" fill="#fff"/></g>
<g transform="translate(1270,10) scale(0.13922)"><path d="M1270.0,65.0 C1286.5,62.0 1290.5,55.5 1295.0,75.0 C1299.5,94.5 1301.5,92.5 1285.0,130.0 C1268.5,167.5 1277.5,162.5 1240.0,200.0 C1202.5,237.5 1217.0,228.0 1160.0,255.0 C1103.0,282.0 1116.0,275.0 1050.0,290.0 C984.0,305.0 1000.0,305.0 940.0,305.0 C880.0,305.0 904.0,306.5 850.0,290.0 C796.0,273.5 820.0,272.5 760.0,250.0 C700.0,227.5 716.0,227.0 650.0,215.0 C584.0,203.0 603.0,210.0 540.0,210.0 C477.0,210.0 497.0,203.0 440.0,215.0 C383.0,227.0 393.5,221.5 350.0,250.0 C306.5,278.5 318.4,265.0 295.0,310.0 C271.6,355.0 278.0,349.0 272.0,400.0 C266.0,451.0 266.6,432.0 275.0,480.0 C283.4,528.0 277.5,518.0 300.0,560.0 C322.5,602.0 314.0,593.0 350.0,620.0 C386.0,647.0 375.0,638.0 420.0,650.0 C465.0,662.0 446.0,658.5 500.0,660.0 C554.0,661.5 540.0,665.5 600.0,655.0 C660.0,644.5 640.0,643.0 700.0,625.0 C760.0,607.0 740.0,611.5 800.0,595.0 C860.0,578.5 825.0,582.0 900.0,570.0 C975.0,558.0 960.0,556.5 1050.0,555.0 C1140.0,553.5 1125.0,556.0 1200.0,565.0 C1275.0,574.0 1246.0,571.5 1300.0,585.0 C1354.0,598.5 1338.0,601.0 1380.0,610.0 C1422.0,619.0 1410.0,619.5 1440.0,615.0 C1470.0,610.5 1456.0,613.0 1480.0,595.0 C1504.0,577.0 1496.0,580.5 1520.0,555.0 C1544.0,529.5 1536.0,531.0 1560.0,510.0 C1584.0,489.0 1573.0,496.4 1600.0,485.0 C1627.0,473.6 1614.0,472.0 1650.0,472.0 C1686.0,472.0 1675.0,467.6 1720.0,485.0 C1765.0,502.4 1755.0,501.5 1800.0,530.0 C1845.0,558.5 1840.0,553.0 1870.0,580.0 C1900.0,607.0 1886.5,590.0 1900.0,620.0 C1913.5,650.0 1909.0,644.0 1915.0,680.0 C1921.0,716.0 1911.0,707.0 1920.0,740.0 C1929.0,773.0 1939.0,757.0 1945.0,790.0 C1951.0,823.0 1950.5,818.5 1940.0,850.0 C1929.5,881.5 1934.0,872.5 1910.0,895.0 C1886.0,917.5 1899.0,912.1 1860.0,925.0 C1821.0,937.9 1828.0,938.0 1780.0,938.0 C1732.0,938.0 1748.0,936.4 1700.0,925.0 C1652.0,913.6 1662.0,912.0 1620.0,900.0 C1578.0,888.0 1587.0,886.5 1560.0,885.0 C1533.0,883.5 1540.5,884.5 1530.0,895.0 C1519.5,905.5 1522.0,903.5 1525.0,920.0 C1528.0,936.5 1533.1,926.0 1540.0,950.0 C1546.9,974.0 1539.0,961.0 1548.0,1000.0 C1557.0,1039.0 1554.4,1032.0 1570.0,1080.0 C1585.6,1128.0 1579.0,1106.0 1600.0,1160.0 C1621.0,1214.0 1616.0,1197.0 1640.0,1260.0 C1664.0,1323.0 1656.0,1313.0 1680.0,1370.0 C1704.0,1427.0 1690.0,1412.5 1720.0,1450.0 C1750.0,1487.5 1738.0,1477.0 1780.0,1495.0 C1822.0,1513.0 1812.0,1505.5 1860.0,1510.0 C1908.0,1514.5 1904.0,1511.5 1940.0,1510.0 C1976.0,1508.5 1965.0,1500.5 1980.0,1505.0 C1995.0,1509.5 1990.0,1510.0 1990.0,1525.0 C1990.0,1540.0 1992.0,1539.1 1980.0,1555.0 C1968.0,1570.9 1989.0,1569.0 1950.0,1578.0 C1911.0,1587.0 1910.0,1584.4 1850.0,1585.0 C1790.0,1585.6 1795.0,1590.5 1750.0,1580.0 C1705.0,1569.5 1733.0,1580.0 1700.0,1550.0 C1667.0,1520.0 1682.0,1531.0 1640.0,1480.0 C1598.0,1429.0 1608.0,1446.0 1560.0,1380.0 C1512.0,1314.0 1525.0,1332.0 1480.0,1260.0 C1435.0,1188.0 1443.0,1183.5 1410.0,1140.0 C1377.0,1096.5 1394.0,1122.5 1370.0,1115.0 C1346.0,1107.5 1357.0,1107.5 1330.0,1115.0 C1303.0,1122.5 1313.0,1114.5 1280.0,1140.0 C1247.0,1165.5 1256.0,1158.0 1220.0,1200.0 C1184.0,1242.0 1196.0,1229.0 1160.0,1280.0 C1124.0,1331.0 1136.0,1319.0 1100.0,1370.0 C1064.0,1421.0 1073.0,1408.0 1040.0,1450.0 C1007.0,1492.0 1012.5,1484.5 990.0,1510.0 C967.5,1535.5 966.5,1521.5 965.0,1535.0 C963.5,1548.5 973.0,1544.5 985.0,1555.0 C997.0,1565.5 1003.5,1562.5 1005.0,1570.0 C1006.5,1577.5 1021.5,1577.0 990.0,1580.0 C958.5,1583.0 939.0,1583.0 900.0,1580.0 C861.0,1577.0 878.0,1582.0 860.0,1570.0 C842.0,1558.0 840.0,1561.0 840.0,1540.0 C840.0,1519.0 836.0,1530.0 860.0,1500.0 C884.0,1470.0 881.0,1482.0 920.0,1440.0 C959.0,1398.0 960.0,1402.0 990.0,1360.0 C1020.0,1318.0 1005.0,1342.0 1020.0,1300.0 C1035.0,1258.0 1031.0,1265.0 1040.0,1220.0 C1049.0,1175.0 1041.0,1192.0 1050.0,1150.0 C1059.0,1108.0 1052.0,1122.0 1070.0,1080.0 C1088.0,1038.0 1086.0,1044.5 1110.0,1010.0 C1134.0,975.5 1153.0,972.5 1150.0,965.0 C1147.0,957.5 1133.0,976.0 1100.0,985.0 C1067.0,994.0 1082.0,998.0 1040.0,995.0 C998.0,992.0 1008.0,994.5 960.0,975.0 C912.0,955.5 925.0,954.0 880.0,930.0 C835.0,906.0 841.5,907.0 810.0,895.0 C778.5,883.0 787.6,885.5 775.0,890.0 C762.4,894.5 763.5,883.0 768.0,910.0 C772.5,937.0 778.9,938.0 790.0,980.0 C801.1,1022.0 802.0,1011.0 805.0,1050.0 C808.0,1089.0 807.5,1077.0 800.0,1110.0 C792.5,1143.0 798.0,1127.0 780.0,1160.0 C762.0,1193.0 767.0,1178.0 740.0,1220.0 C713.0,1262.0 714.0,1255.0 690.0,1300.0 C666.0,1345.0 673.5,1331.0 660.0,1370.0 C646.5,1409.0 645.0,1397.0 645.0,1430.0 C645.0,1463.0 643.5,1456.0 660.0,1480.0 C676.5,1504.0 670.0,1496.5 700.0,1510.0 C730.0,1523.5 728.5,1520.5 760.0,1525.0 C791.5,1529.5 793.0,1519.0 805.0,1525.0 C817.0,1531.0 813.5,1531.5 800.0,1545.0 C786.5,1558.5 790.0,1558.0 760.0,1570.0 C730.0,1582.0 742.0,1582.0 700.0,1585.0 C658.0,1588.0 662.0,1587.5 620.0,1580.0 C578.0,1572.5 588.5,1578.0 560.0,1560.0 C531.5,1542.0 537.0,1547.0 525.0,1520.0 C513.0,1493.0 518.5,1506.0 520.0,1470.0 C521.5,1434.0 518.0,1445.0 530.0,1400.0 C542.0,1355.0 539.0,1365.0 560.0,1320.0 C581.0,1275.0 580.5,1286.0 600.0,1250.0 C619.5,1214.0 616.0,1224.0 625.0,1200.0 C634.0,1176.0 640.5,1183.5 630.0,1170.0 C619.5,1156.5 617.0,1164.0 590.0,1155.0 C563.0,1146.0 567.0,1144.5 540.0,1140.0 C513.0,1135.5 536.0,1129.5 500.0,1140.0 C464.0,1150.5 474.0,1151.0 420.0,1175.0 C366.0,1199.0 372.5,1194.5 320.0,1220.0 C267.5,1245.5 271.4,1240.5 245.0,1260.0 C218.6,1279.5 235.9,1258.0 232.0,1285.0 C228.1,1312.0 234.1,1303.5 232.0,1350.0 C229.9,1396.5 233.1,1404.0 225.0,1440.0 C216.9,1476.0 220.0,1457.4 205.0,1470.0 C190.0,1482.6 188.5,1482.0 175.0,1482.0 C161.5,1482.0 167.5,1494.6 160.0,1470.0 C152.5,1445.4 159.0,1445.0 150.0,1400.0 C141.0,1355.0 138.4,1365.0 130.0,1320.0 C121.6,1275.0 122.0,1286.0 122.0,1250.0 C122.0,1214.0 115.6,1227.0 130.0,1200.0 C144.4,1173.0 131.0,1187.0 170.0,1160.0 C209.0,1133.0 197.0,1141.5 260.0,1110.0 C323.0,1078.5 314.0,1082.0 380.0,1055.0 C446.0,1028.0 438.0,1036.5 480.0,1020.0 C522.0,1003.5 506.5,1015.0 520.0,1000.0 C533.5,985.0 529.5,991.0 525.0,970.0 C520.5,949.0 521.5,960.0 505.0,930.0 C488.5,900.0 486.5,909.0 470.0,870.0 C453.5,831.0 454.5,836.0 450.0,800.0 C445.5,764.0 449.0,775.5 455.0,750.0 C461.0,724.5 480.5,725.5 470.0,715.0 C459.5,704.5 459.0,722.5 420.0,715.0 C381.0,707.5 385.0,712.5 340.0,690.0 C295.0,667.5 304.5,676.0 270.0,640.0 C235.5,604.0 246.0,615.0 225.0,570.0 C204.0,525.0 206.0,541.0 200.0,490.0 C194.0,439.0 197.5,451.0 205.0,400.0 C212.5,349.0 205.5,368.0 225.0,320.0 C244.5,272.0 235.5,279.0 270.0,240.0 C304.5,201.0 292.0,214.0 340.0,190.0 C388.0,166.0 376.0,169.6 430.0,160.0 C484.0,150.4 463.0,155.0 520.0,158.0 C577.0,161.0 560.0,157.4 620.0,170.0 C680.0,182.6 660.0,180.5 720.0,200.0 C780.0,219.5 766.0,217.6 820.0,235.0 C874.0,252.4 852.0,250.5 900.0,258.0 C948.0,265.5 932.0,266.9 980.0,260.0 C1028.0,253.1 1012.0,256.0 1060.0,235.0 C1108.0,214.0 1098.0,220.0 1140.0,190.0 C1182.0,160.0 1170.0,166.5 1200.0,135.0 C1230.0,103.5 1219.0,106.0 1240.0,85.0 C1261.0,64.0 1253.5,68.0 1270.0,65.0Z" fill="#0a0a0a"/><ellipse cx="1832" cy="708" rx="58" ry="44" fill="#fff" transform="rotate(15 1832 708)"/><circle cx="1850" cy="740" r="13" fill="#0a0a0a"/></g>
<g transform="translate(2440,10) scale(0.30874)"><path d="M320.0,42.0 C353.3,38.0 341.7,37.0 370.0,48.0 C398.3,59.0 388.3,54.3 405.0,75.0 C421.7,95.7 413.3,85.0 420.0,110.0 C426.7,135.0 416.7,127.3 425.0,150.0 C433.3,172.7 443.3,163.0 445.0,178.0 C446.7,193.0 434.3,182.7 430.0,195.0 C425.7,207.3 433.7,205.0 432.0,215.0 C430.3,225.0 425.0,218.3 425.0,225.0 C425.0,231.7 433.7,225.0 432.0,235.0 C430.3,245.0 432.3,246.0 420.0,255.0 C407.7,264.0 409.0,257.7 395.0,262.0 C381.0,266.3 384.7,258.7 378.0,268.0 C371.3,277.3 372.7,269.3 375.0,290.0 C377.3,310.7 376.7,300.0 385.0,330.0 C393.3,360.0 393.3,343.3 400.0,380.0 C406.7,416.7 405.0,393.3 405.0,440.0 C405.0,486.7 398.3,473.3 400.0,520.0 C401.7,566.7 400.0,540.0 410.0,580.0 C420.0,620.0 410.0,600.0 430.0,640.0 C450.0,680.0 440.0,665.0 470.0,700.0 C500.0,735.0 488.3,720.0 520.0,745.0 C551.7,770.0 545.7,755.0 565.0,775.0 C584.3,795.0 576.3,786.7 578.0,805.0 C579.7,823.3 581.0,817.7 570.0,830.0 C559.0,842.3 563.3,842.0 545.0,842.0 C526.7,842.0 533.3,845.7 515.0,830.0 C496.7,814.3 511.7,825.0 490.0,795.0 C468.3,765.0 478.3,773.3 450.0,740.0 C421.7,706.7 420.0,695.0 405.0,695.0 C390.0,695.0 398.3,705.0 405.0,740.0 C411.7,775.0 406.7,753.3 425.0,800.0 C443.3,846.7 440.0,826.7 460.0,880.0 C480.0,933.3 472.3,903.3 485.0,960.0 C497.7,1016.7 493.0,986.7 498.0,1050.0 C503.0,1113.3 501.0,1083.3 500.0,1150.0 C499.0,1216.7 498.3,1183.3 495.0,1250.0 C491.7,1316.7 491.7,1283.3 490.0,1350.0 C488.3,1416.7 486.7,1396.7 490.0,1450.0 C493.3,1503.3 483.3,1481.7 500.0,1510.0 C516.7,1538.3 506.7,1521.0 540.0,1535.0 C573.3,1549.0 561.7,1541.0 600.0,1552.0 C638.3,1563.0 631.7,1558.7 655.0,1568.0 C678.3,1577.3 668.3,1570.0 670.0,1580.0 C671.7,1590.0 683.3,1590.7 660.0,1598.0 C636.7,1605.3 653.3,1601.3 600.0,1602.0 C546.7,1602.7 556.7,1603.3 500.0,1600.0 C443.3,1596.7 460.7,1602.0 430.0,1592.0 C399.3,1582.0 416.3,1600.7 408.0,1570.0 C399.7,1539.3 407.7,1550.0 405.0,1500.0 C402.3,1450.0 408.3,1476.7 400.0,1420.0 C391.7,1363.3 388.3,1380.0 380.0,1330.0 C371.7,1280.0 371.0,1313.3 375.0,1270.0 C379.0,1226.7 385.3,1240.0 392.0,1200.0 C398.7,1160.0 400.7,1186.7 395.0,1150.0 C389.3,1113.3 393.3,1125.0 375.0,1090.0 C356.7,1055.0 355.0,1041.7 340.0,1045.0 C325.0,1048.3 343.3,1048.3 330.0,1100.0 C316.7,1151.7 323.3,1136.7 300.0,1200.0 C276.7,1263.3 280.0,1233.3 260.0,1290.0 C240.0,1346.7 248.3,1316.7 240.0,1370.0 C231.7,1423.3 231.7,1406.7 235.0,1450.0 C238.3,1493.3 228.3,1473.3 250.0,1500.0 C271.7,1526.7 266.7,1513.3 300.0,1530.0 C333.3,1546.7 330.0,1536.7 350.0,1550.0 C370.0,1563.3 361.7,1559.0 360.0,1570.0 C358.3,1581.0 371.7,1579.7 345.0,1583.0 C318.3,1586.3 328.3,1584.3 280.0,1580.0 C231.7,1575.7 246.7,1575.0 200.0,1570.0 C153.3,1565.0 165.0,1575.0 140.0,1565.0 C115.0,1555.0 126.7,1561.7 125.0,1540.0 C123.3,1518.3 125.0,1530.0 135.0,1500.0 C145.0,1470.0 148.3,1490.0 155.0,1450.0 C161.7,1410.0 156.7,1433.3 155.0,1380.0 C153.3,1326.7 148.3,1340.0 150.0,1290.0 C151.7,1240.0 146.7,1270.0 160.0,1230.0 C173.3,1190.0 171.7,1213.3 190.0,1170.0 C208.3,1126.7 202.3,1153.3 215.0,1100.0 C227.7,1046.7 223.0,1066.7 228.0,1010.0 C233.0,953.3 239.3,963.3 230.0,930.0 C220.7,896.7 216.7,926.7 200.0,910.0 C183.3,893.3 187.3,906.7 180.0,880.0 C172.7,853.3 174.7,860.0 178.0,830.0 C181.3,800.0 185.3,816.7 190.0,790.0 C194.7,763.3 198.7,780.0 192.0,750.0 C185.3,720.0 190.7,736.7 170.0,700.0 C149.3,663.3 150.7,676.7 130.0,640.0 C109.3,603.3 114.7,621.7 108.0,590.0 C101.3,558.3 101.0,575.0 110.0,545.0 C119.0,515.0 121.7,528.3 135.0,500.0 C148.3,471.7 141.7,493.3 150.0,460.0 C158.3,426.7 148.3,440.0 160.0,400.0 C171.7,360.0 163.3,376.7 185.0,340.0 C206.7,303.3 199.3,315.0 225.0,290.0 C250.7,265.0 247.7,281.7 262.0,265.0 C276.3,248.3 272.0,261.7 268.0,240.0 C264.0,218.3 261.0,230.0 250.0,200.0 C239.0,170.0 238.3,183.3 235.0,150.0 C231.7,116.7 228.3,130.0 240.0,100.0 C251.7,70.0 243.3,79.3 270.0,60.0 C296.7,40.7 286.7,46.0 320.0,42.0Z" fill="#171616" stroke="#171616" stroke-width="6" stroke-linejoin="round"/></g>
<g transform="translate(90,2095) scale(0.10393)"><path d="M215.0,730.0 C238.3,731.7 221.7,730.0 260.0,760.0 C298.3,790.0 283.3,793.3 330.0,820.0 C376.7,846.7 350.0,843.3 400.0,840.0 C450.0,836.7 426.7,846.7 480.0,810.0 C533.3,773.3 506.7,793.3 560.0,730.0 C613.3,666.7 586.7,690.0 640.0,620.0 C693.3,550.0 666.7,576.7 720.0,520.0 C773.3,463.3 746.7,485.0 800.0,450.0 C853.3,415.0 820.0,430.0 880.0,415.0 C940.0,400.0 906.7,408.3 980.0,405.0 C1053.3,401.7 1026.7,406.7 1100.0,405.0 C1173.3,403.3 1136.7,411.7 1200.0,400.0 C1263.3,388.3 1230.0,400.0 1290.0,370.0 C1350.0,340.0 1320.0,351.7 1380.0,310.0 C1440.0,268.3 1410.0,283.3 1470.0,245.0 C1530.0,206.7 1500.0,218.3 1560.0,195.0 C1620.0,171.7 1593.3,176.7 1650.0,175.0 C1706.7,173.3 1676.7,165.0 1730.0,190.0 C1783.3,215.0 1760.0,200.0 1810.0,250.0 C1860.0,300.0 1843.3,273.3 1880.0,340.0 C1916.7,406.7 1898.3,376.7 1920.0,450.0 C1941.7,523.3 1936.7,496.7 1945.0,560.0 C1953.3,623.3 1951.7,601.7 1945.0,640.0 C1938.3,678.3 1943.3,663.3 1925.0,675.0 C1906.7,686.7 1918.3,686.7 1890.0,675.0 C1861.7,663.3 1870.0,675.0 1840.0,640.0 C1810.0,605.0 1826.7,623.3 1800.0,570.0 C1773.3,516.7 1790.0,533.3 1760.0,480.0 C1730.0,426.7 1746.7,444.0 1710.0,410.0 C1673.3,376.0 1690.0,389.7 1650.0,378.0 C1610.0,366.3 1633.3,364.3 1590.0,375.0 C1546.7,385.7 1566.7,378.3 1520.0,410.0 C1473.3,441.7 1496.7,425.0 1450.0,470.0 C1403.3,515.0 1426.7,501.7 1380.0,545.0 C1333.3,588.3 1356.7,571.7 1310.0,600.0 C1263.3,628.3 1293.3,616.7 1240.0,630.0 C1186.7,643.3 1213.3,638.3 1150.0,640.0 C1086.7,641.7 1113.3,635.0 1050.0,635.0 C986.7,635.0 1013.3,630.0 960.0,640.0 C906.7,650.0 936.7,638.3 890.0,665.0 C843.3,691.7 866.7,678.3 820.0,720.0 C773.3,761.7 796.7,743.3 750.0,790.0 C703.3,836.7 730.0,816.7 680.0,860.0 C630.0,903.3 660.0,885.0 600.0,920.0 C540.0,955.0 563.3,945.0 500.0,965.0 C436.7,985.0 456.7,981.7 410.0,980.0 C363.3,978.3 400.0,983.3 360.0,960.0 C320.0,936.7 336.7,946.7 290.0,910.0 C243.3,873.3 254.0,886.7 220.0,850.0 C186.0,813.3 198.0,831.7 188.0,800.0 C178.0,768.3 181.0,778.3 190.0,755.0 C199.0,731.7 191.7,728.3 215.0,730.0Z" fill="#171616"/></g>
<g transform="translate(1690,2070) scale(0.09079)"><path d="M760.0,142.0 C840.0,140.3 810.0,129.0 880.0,165.0 C950.0,201.0 926.7,181.7 970.0,250.0 C1013.3,318.3 1003.3,293.3 1010.0,370.0 C1016.7,446.7 1016.7,413.3 990.0,480.0 C963.3,546.7 970.0,530.0 930.0,570.0 C890.0,610.0 846.7,560.0 870.0,600.0 C893.3,640.0 916.7,616.7 1000.0,690.0 C1083.3,763.3 1056.7,733.3 1120.0,820.0 C1183.3,906.7 1163.3,863.3 1190.0,950.0 C1216.7,1036.7 1206.7,986.7 1200.0,1080.0 C1193.3,1173.3 1210.0,1133.3 1170.0,1230.0 C1130.0,1326.7 1153.3,1290.0 1080.0,1370.0 C1006.7,1450.0 1043.3,1416.7 950.0,1470.0 C856.7,1523.3 900.0,1510.0 800.0,1530.0 C700.0,1550.0 750.0,1550.0 650.0,1530.0 C550.0,1510.0 590.0,1523.3 500.0,1470.0 C410.0,1416.7 453.3,1453.3 380.0,1370.0 C306.7,1286.7 326.7,1323.3 280.0,1220.0 C233.3,1116.7 243.3,1166.7 240.0,1060.0 C236.7,953.3 230.0,1000.0 270.0,900.0 C310.0,800.0 290.0,840.0 360.0,760.0 C430.0,680.0 400.0,710.0 480.0,660.0 C560.0,610.0 580.0,660.0 600.0,610.0 C620.0,560.0 570.0,586.7 540.0,510.0 C510.0,433.3 506.7,463.3 510.0,380.0 C513.3,296.7 506.7,330.0 550.0,260.0 C593.3,190.0 570.0,209.3 640.0,170.0 C710.0,130.7 680.0,143.7 760.0,142.0Z" fill="#050505" stroke="#231f20" stroke-width="0"/><path d="M760.0,142.0 C840.0,140.3 810.0,129.0 880.0,165.0 C950.0,201.0 926.7,181.7 970.0,250.0 C1013.3,318.3 1003.3,293.3 1010.0,370.0 C1016.7,446.7 1016.7,413.3 990.0,480.0 C963.3,546.7 970.0,530.0 930.0,570.0 C890.0,610.0 846.7,560.0 870.0,600.0 C893.3,640.0 916.7,616.7 1000.0,690.0 C1083.3,763.3 1056.7,733.3 1120.0,820.0 C1183.3,906.7 1163.3,863.3 1190.0,950.0 C1216.7,1036.7 1206.7,986.7 1200.0,1080.0 C1193.3,1173.3 1210.0,1133.3 1170.0,1230.0 C1130.0,1326.7 1153.3,1290.0 1080.0,1370.0 C1006.7,1450.0 1043.3,1416.7 950.0,1470.0 C856.7,1523.3 900.0,1510.0 800.0,1530.0 C700.0,1550.0 750.0,1550.0 650.0,1530.0 C550.0,1510.0 590.0,1523.3 500.0,1470.0 C410.0,1416.7 453.3,1453.3 380.0,1370.0 C306.7,1286.7 326.7,1323.3 280.0,1220.0 C233.3,1116.7 243.3,1166.7 240.0,1060.0 C236.7,953.3 230.0,1000.0 270.0,900.0 C310.0,800.0 290.0,840.0 360.0,760.0 C430.0,680.0 400.0,710.0 480.0,660.0 C560.0,610.0 580.0,660.0 600.0,610.0 C620.0,560.0 570.0,586.7 540.0,510.0 C510.0,433.3 506.7,463.3 510.0,380.0 C513.3,296.7 506.7,330.0 550.0,260.0 C593.3,190.0 570.0,209.3 640.0,170.0 C710.0,130.7 680.0,143.7 760.0,142.0Z" fill="none" stroke="#231f20" stroke-width="58" transform="translate(720,840) scale(0.94) translate(-720,-840)"/><path d="M930.0,1010.0 C956.7,1063.3 950.0,1026.7 940.0,1100.0 C930.0,1173.3 940.0,1150.0 900.0,1230.0 C860.0,1310.0 886.7,1276.7 820.0,1340.0 C753.3,1403.3 780.0,1386.7 700.0,1420.0 C620.0,1453.3 656.7,1450.0 580.0,1440.0 C503.3,1430.0 530.0,1440.0 470.0,1390.0 C410.0,1340.0 426.7,1366.7 400.0,1290.0 C373.3,1213.3 376.7,1243.3 390.0,1160.0 C403.3,1076.7 383.3,1110.0 440.0,1040.0 C496.7,970.0 466.7,991.7 560.0,950.0 C653.3,908.3 620.0,918.3 720.0,915.0 C820.0,911.7 790.0,908.3 860.0,940.0 C930.0,971.7 903.3,956.7 930.0,1010.0Z" fill="#231f20"/><path d="M885.0,1040.0 C900.0,1080.0 896.7,1050.0 885.0,1110.0 C873.3,1170.0 885.0,1153.3 850.0,1220.0 C815.0,1286.7 836.7,1260.0 780.0,1310.0 C723.3,1360.0 743.3,1345.0 680.0,1370.0 C616.7,1395.0 646.7,1391.7 590.0,1385.0 C533.3,1378.3 553.3,1388.3 510.0,1350.0 C466.7,1311.7 480.0,1330.0 460.0,1270.0 C440.0,1210.0 440.0,1233.3 450.0,1170.0 C460.0,1106.7 446.7,1136.7 490.0,1080.0 C533.3,1023.3 503.3,1036.7 580.0,1000.0 C656.7,963.3 633.3,973.3 720.0,970.0 C806.7,966.7 785.0,966.7 840.0,990.0 C895.0,1013.3 870.0,1000.0 885.0,1040.0Z" fill="#7d7d7d"/></g>
</g>
</svg>
</body></html>
